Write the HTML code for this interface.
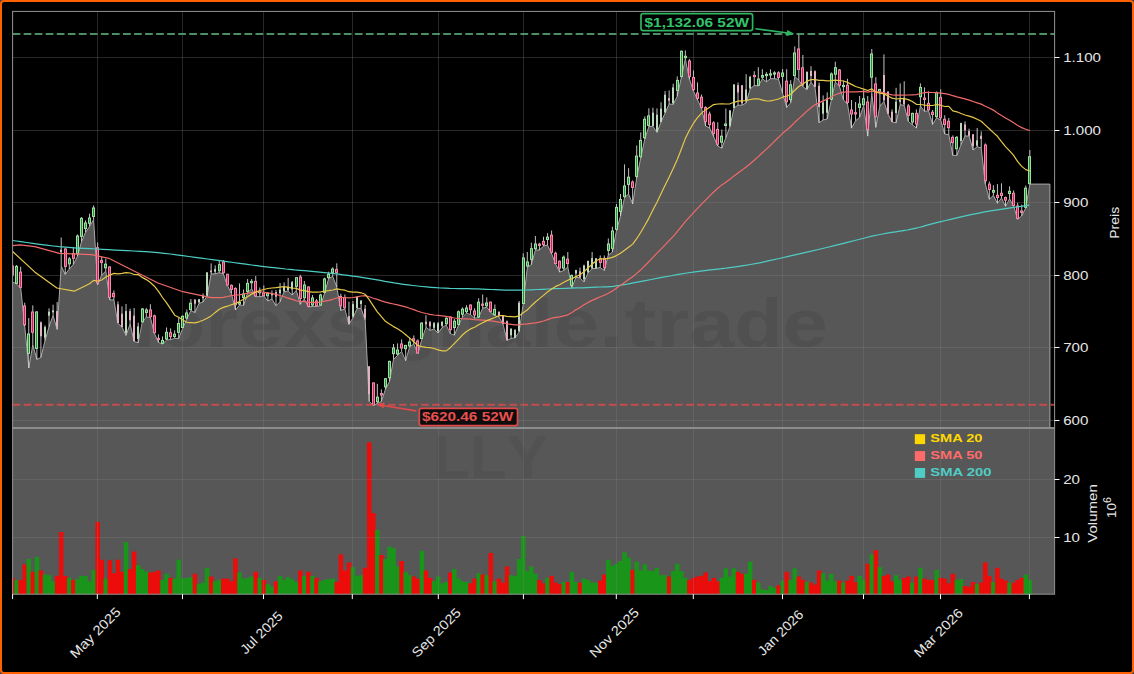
<!DOCTYPE html>
<html><head><meta charset="utf-8"><style>
html,body{margin:0;padding:0;width:1134px;height:674px;overflow:hidden;background:#33414d}
#frame{position:absolute;left:0;top:0;width:1130px;height:670px;border:2px solid #ff6000;border-radius:4px;background:#000;overflow:hidden}
svg text{font-family:"Liberation Sans",sans-serif}
</style></head><body><div id="frame"></div>
<svg width="1134" height="674" viewBox="0 0 1134 674" style="position:absolute;left:0;top:0">
<defs><clipPath id="cp"><rect x="12.6" y="11.4" width="1042.0" height="416.6"/></clipPath>
<clipPath id="cv"><rect x="12.6" y="428.0" width="1042.0" height="166.2"/></clipPath></defs>
<g clip-path="url(#cp)">
<rect x="12.6" y="11.4" width="1042.0" height="416.6" fill="#000"/>
<path d="M7.6,282.0 L12.6,282.0 L16.6,284.0 L20.7,288.0 L24.7,326.0 L28.8,368.0 L32.8,344.8 L36.9,359.4 L40.9,357.4 L45.0,340.7 L49.0,326.7 L53.1,315.4 L57.1,329.4 L61.2,266.0 L65.2,274.4 L69.3,269.0 L73.3,264.4 L77.4,256.4 L81.5,241.7 L85.5,232.4 L89.6,226.4 L93.6,219.7 L97.7,284.7 L101.7,275.1 L105.8,271.0 L109.8,300.0 L113.9,299.8 L117.9,323.4 L122.0,327.0 L126.0,335.4 L130.1,324.0 L134.1,341.4 L138.2,342.7 L142.2,322.4 L146.3,317.0 L150.4,317.5 L154.4,333.3 L158.5,342.4 L162.5,344.0 L166.6,340.0 L170.6,339.6 L174.7,338.4 L178.7,338.4 L182.8,328.1 L186.8,319.0 L190.9,310.5 L194.9,312.5 L199.0,303.4 L203.0,302.0 L207.1,296.0 L211.1,274.0 L215.2,273.8 L219.3,272.7 L223.3,273.8 L227.4,285.4 L231.4,293.4 L235.5,310.0 L239.5,305.0 L243.6,305.4 L247.6,292.7 L251.7,288.7 L255.7,296.7 L259.8,296.7 L263.8,296.0 L267.9,301.0 L271.9,299.0 L276.0,305.7 L280.0,301.7 L284.1,291.7 L288.2,291.0 L292.2,295.0 L296.3,290.4 L300.3,304.4 L304.4,299.0 L308.4,307.0 L312.5,306.4 L316.5,306.4 L320.6,305.7 L324.6,293.0 L328.7,278.4 L332.7,276.4 L336.8,287.0 L340.8,310.4 L344.9,309.0 L348.9,324.4 L353.0,317.7 L357.1,308.4 L361.1,308.4 L365.2,320.0 L369.2,401.4 L373.3,405.5 L377.3,403.4 L381.4,401.4 L385.4,389.4 L389.5,381.4 L393.5,359.4 L397.6,355.4 L401.6,351.4 L405.7,360.7 L409.7,346.7 L413.8,344.0 L417.9,353.4 L421.9,339.2 L426.0,327.2 L430.0,330.4 L434.1,329.0 L438.1,333.0 L442.2,327.5 L446.2,325.0 L450.3,333.7 L454.3,335.2 L458.4,325.5 L462.4,317.2 L466.5,313.2 L470.5,314.5 L474.6,318.2 L478.6,317.5 L482.7,308.2 L486.8,307.2 L490.8,312.6 L494.9,315.5 L498.9,317.0 L503.0,324.0 L507.0,340.4 L511.1,338.4 L515.1,337.9 L519.2,331.7 L523.2,304.0 L527.3,267.4 L531.3,264.7 L535.4,250.0 L539.4,250.0 L543.5,246.0 L547.5,245.0 L551.6,253.6 L555.7,264.1 L559.7,272.1 L563.8,270.4 L567.8,267.0 L571.9,287.6 L575.9,277.3 L580.0,277.9 L584.0,281.9 L588.1,272.7 L592.1,268.7 L596.2,268.3 L600.2,267.6 L604.3,270.4 L608.3,255.0 L612.4,252.0 L616.4,230.7 L620.5,216.0 L624.6,197.4 L628.6,194.0 L632.7,204.0 L636.7,177.8 L640.8,157.7 L644.8,139.0 L648.9,126.4 L652.9,126.4 L657.0,132.4 L661.0,122.0 L665.1,113.0 L669.1,104.0 L673.2,104.4 L677.2,96.4 L681.3,77.7 L685.3,59.0 L689.4,79.0 L693.5,91.0 L697.5,99.8 L701.6,108.4 L705.6,126.0 L709.7,128.0 L713.7,136.8 L717.8,146.0 L721.8,148.2 L725.9,137.5 L729.9,126.8 L734.0,108.0 L738.0,105.2 L742.1,105.2 L746.1,102.8 L750.2,88.8 L754.2,85.5 L758.3,85.8 L762.4,78.8 L766.4,81.8 L770.5,78.7 L774.5,78.7 L778.6,79.4 L782.6,93.4 L786.7,107.4 L790.7,102.7 L794.8,76.7 L798.8,80.0 L802.9,86.7 L806.9,89.6 L811.0,82.2 L815.0,87.4 L819.1,122.7 L823.1,120.0 L827.2,119.0 L831.3,100.2 L835.3,82.0 L839.4,86.0 L843.4,99.8 L847.5,104.2 L851.5,128.1 L855.6,120.7 L859.6,117.4 L863.7,105.4 L867.7,136.1 L871.8,93.4 L875.8,127.4 L879.9,106.0 L883.9,101.4 L888.0,114.0 L892.1,122.0 L896.1,122.7 L900.2,104.7 L904.2,105.4 L908.3,121.4 L912.3,124.7 L916.4,128.1 L920.4,106.0 L924.5,111.4 L928.5,110.7 L932.6,124.4 L936.6,117.8 L940.7,120.0 L944.7,134.0 L948.8,134.7 L952.8,155.4 L956.9,155.4 L961.0,144.7 L965.0,136.0 L969.1,136.0 L973.1,150.0 L977.2,146.7 L981.2,148.0 L985.3,183.7 L989.3,199.3 L993.4,195.3 L997.4,203.3 L1001.5,198.0 L1005.5,206.4 L1009.6,198.8 L1013.6,206.0 L1017.7,219.3 L1021.7,215.8 L1025.8,207.7 L1029.9,184.1 L1049.9,184.1 L1049.9,433.0 L7.6,433.0 Z" fill="#575757"/>
<path d="M12.6,282.0 L16.6,284.0 L20.7,288.0 L24.7,326.0 L28.8,368.0 L32.8,344.8 L36.9,359.4 L40.9,357.4 L45.0,340.7 L49.0,326.7 L53.1,315.4 L57.1,329.4 L61.2,266.0 L65.2,274.4 L69.3,269.0 L73.3,264.4 L77.4,256.4 L81.5,241.7 L85.5,232.4 L89.6,226.4 L93.6,219.7 L97.7,284.7 L101.7,275.1 L105.8,271.0 L109.8,300.0 L113.9,299.8 L117.9,323.4 L122.0,327.0 L126.0,335.4 L130.1,324.0 L134.1,341.4 L138.2,342.7 L142.2,322.4 L146.3,317.0 L150.4,317.5 L154.4,333.3 L158.5,342.4 L162.5,344.0 L166.6,340.0 L170.6,339.6 L174.7,338.4 L178.7,338.4 L182.8,328.1 L186.8,319.0 L190.9,310.5 L194.9,312.5 L199.0,303.4 L203.0,302.0 L207.1,296.0 L211.1,274.0 L215.2,273.8 L219.3,272.7 L223.3,273.8 L227.4,285.4 L231.4,293.4 L235.5,310.0 L239.5,305.0 L243.6,305.4 L247.6,292.7 L251.7,288.7 L255.7,296.7 L259.8,296.7 L263.8,296.0 L267.9,301.0 L271.9,299.0 L276.0,305.7 L280.0,301.7 L284.1,291.7 L288.2,291.0 L292.2,295.0 L296.3,290.4 L300.3,304.4 L304.4,299.0 L308.4,307.0 L312.5,306.4 L316.5,306.4 L320.6,305.7 L324.6,293.0 L328.7,278.4 L332.7,276.4 L336.8,287.0 L340.8,310.4 L344.9,309.0 L348.9,324.4 L353.0,317.7 L357.1,308.4 L361.1,308.4 L365.2,320.0 L369.2,401.4 L373.3,405.5 L377.3,403.4 L381.4,401.4 L385.4,389.4 L389.5,381.4 L393.5,359.4 L397.6,355.4 L401.6,351.4 L405.7,360.7 L409.7,346.7 L413.8,344.0 L417.9,353.4 L421.9,339.2 L426.0,327.2 L430.0,330.4 L434.1,329.0 L438.1,333.0 L442.2,327.5 L446.2,325.0 L450.3,333.7 L454.3,335.2 L458.4,325.5 L462.4,317.2 L466.5,313.2 L470.5,314.5 L474.6,318.2 L478.6,317.5 L482.7,308.2 L486.8,307.2 L490.8,312.6 L494.9,315.5 L498.9,317.0 L503.0,324.0 L507.0,340.4 L511.1,338.4 L515.1,337.9 L519.2,331.7 L523.2,304.0 L527.3,267.4 L531.3,264.7 L535.4,250.0 L539.4,250.0 L543.5,246.0 L547.5,245.0 L551.6,253.6 L555.7,264.1 L559.7,272.1 L563.8,270.4 L567.8,267.0 L571.9,287.6 L575.9,277.3 L580.0,277.9 L584.0,281.9 L588.1,272.7 L592.1,268.7 L596.2,268.3 L600.2,267.6 L604.3,270.4 L608.3,255.0 L612.4,252.0 L616.4,230.7 L620.5,216.0 L624.6,197.4 L628.6,194.0 L632.7,204.0 L636.7,177.8 L640.8,157.7 L644.8,139.0 L648.9,126.4 L652.9,126.4 L657.0,132.4 L661.0,122.0 L665.1,113.0 L669.1,104.0 L673.2,104.4 L677.2,96.4 L681.3,77.7 L685.3,59.0 L689.4,79.0 L693.5,91.0 L697.5,99.8 L701.6,108.4 L705.6,126.0 L709.7,128.0 L713.7,136.8 L717.8,146.0 L721.8,148.2 L725.9,137.5 L729.9,126.8 L734.0,108.0 L738.0,105.2 L742.1,105.2 L746.1,102.8 L750.2,88.8 L754.2,85.5 L758.3,85.8 L762.4,78.8 L766.4,81.8 L770.5,78.7 L774.5,78.7 L778.6,79.4 L782.6,93.4 L786.7,107.4 L790.7,102.7 L794.8,76.7 L798.8,80.0 L802.9,86.7 L806.9,89.6 L811.0,82.2 L815.0,87.4 L819.1,122.7 L823.1,120.0 L827.2,119.0 L831.3,100.2 L835.3,82.0 L839.4,86.0 L843.4,99.8 L847.5,104.2 L851.5,128.1 L855.6,120.7 L859.6,117.4 L863.7,105.4 L867.7,136.1 L871.8,93.4 L875.8,127.4 L879.9,106.0 L883.9,101.4 L888.0,114.0 L892.1,122.0 L896.1,122.7 L900.2,104.7 L904.2,105.4 L908.3,121.4 L912.3,124.7 L916.4,128.1 L920.4,106.0 L924.5,111.4 L928.5,110.7 L932.6,124.4 L936.6,117.8 L940.7,120.0 L944.7,134.0 L948.8,134.7 L952.8,155.4 L956.9,155.4 L961.0,144.7 L965.0,136.0 L969.1,136.0 L973.1,150.0 L977.2,146.7 L981.2,148.0 L985.3,183.7 L989.3,199.3 L993.4,195.3 L997.4,203.3 L1001.5,198.0 L1005.5,206.4 L1009.6,198.8 L1013.6,206.0 L1017.7,219.3 L1021.7,215.8 L1025.8,207.7 L1029.9,184.1 L1049.9,184.1 L1049.9,433.0" fill="none" stroke="#a8a8a8" stroke-width="1" stroke-linejoin="round"/>
<g fill="#000" fill-opacity="0.075" font-family="Liberation Sans" font-weight="bold" font-size="69.4"><text x="129.8" y="346.5" textLength="29.1" lengthAdjust="spacingAndGlyphs">f</text><text x="158.9" y="346.5" textLength="46.0" lengthAdjust="spacingAndGlyphs">o</text><text x="205.0" y="346.5" textLength="33.0" lengthAdjust="spacingAndGlyphs">r</text><text x="238.0" y="346.5" textLength="45.4" lengthAdjust="spacingAndGlyphs">e</text><text x="283.5" y="346.5" textLength="43.2" lengthAdjust="spacingAndGlyphs">x</text><text x="326.7" y="346.5" textLength="39.9" lengthAdjust="spacingAndGlyphs">s</text><text x="366.6" y="346.5" textLength="23.0" lengthAdjust="spacingAndGlyphs">i</text><text x="389.5" y="346.5" textLength="48.0" lengthAdjust="spacingAndGlyphs">g</text><text x="437.5" y="346.5" textLength="47.7" lengthAdjust="spacingAndGlyphs">n</text><text x="485.2" y="346.5" textLength="45.2" lengthAdjust="spacingAndGlyphs">a</text><text x="530.4" y="346.5" textLength="23.0" lengthAdjust="spacingAndGlyphs">l</text><text x="553.4" y="346.5" textLength="45.4" lengthAdjust="spacingAndGlyphs">e</text><text x="598.8" y="346.5" textLength="25.5" lengthAdjust="spacingAndGlyphs">.</text><text x="624.3" y="346.5" textLength="32.0" lengthAdjust="spacingAndGlyphs">t</text><text x="656.3" y="346.5" textLength="33.0" lengthAdjust="spacingAndGlyphs">r</text><text x="689.3" y="346.5" textLength="45.2" lengthAdjust="spacingAndGlyphs">a</text><text x="734.5" y="346.5" textLength="48.0" lengthAdjust="spacingAndGlyphs">d</text><text x="782.5" y="346.5" textLength="45.4" lengthAdjust="spacingAndGlyphs">e</text></g>
<line x1="12.6" x2="1054.6" y1="420.5" y2="420.5" stroke="#808080" stroke-opacity="0.3" stroke-width="1"/>
<line x1="12.6" x2="1054.6" y1="347.5" y2="347.5" stroke="#808080" stroke-opacity="0.3" stroke-width="1"/>
<line x1="12.6" x2="1054.6" y1="275.5" y2="275.5" stroke="#808080" stroke-opacity="0.3" stroke-width="1"/>
<line x1="12.6" x2="1054.6" y1="202.5" y2="202.5" stroke="#808080" stroke-opacity="0.3" stroke-width="1"/>
<line x1="12.6" x2="1054.6" y1="130.5" y2="130.5" stroke="#808080" stroke-opacity="0.3" stroke-width="1"/>
<line x1="12.6" x2="1054.6" y1="57.5" y2="57.5" stroke="#808080" stroke-opacity="0.3" stroke-width="1"/>
<line x1="12.5" x2="12.5" y1="11.4" y2="428.0" stroke="#808080" stroke-opacity="0.3" stroke-width="1"/>
<line x1="97.5" x2="97.5" y1="11.4" y2="428.0" stroke="#808080" stroke-opacity="0.3" stroke-width="1"/>
<line x1="182.5" x2="182.5" y1="11.4" y2="428.0" stroke="#808080" stroke-opacity="0.3" stroke-width="1"/>
<line x1="263.5" x2="263.5" y1="11.4" y2="428.0" stroke="#808080" stroke-opacity="0.3" stroke-width="1"/>
<line x1="352.5" x2="352.5" y1="11.4" y2="428.0" stroke="#808080" stroke-opacity="0.3" stroke-width="1"/>
<line x1="438.5" x2="438.5" y1="11.4" y2="428.0" stroke="#808080" stroke-opacity="0.3" stroke-width="1"/>
<line x1="523.5" x2="523.5" y1="11.4" y2="428.0" stroke="#808080" stroke-opacity="0.3" stroke-width="1"/>
<line x1="616.5" x2="616.5" y1="11.4" y2="428.0" stroke="#808080" stroke-opacity="0.3" stroke-width="1"/>
<line x1="693.5" x2="693.5" y1="11.4" y2="428.0" stroke="#808080" stroke-opacity="0.3" stroke-width="1"/>
<line x1="782.5" x2="782.5" y1="11.4" y2="428.0" stroke="#808080" stroke-opacity="0.3" stroke-width="1"/>
<line x1="863.5" x2="863.5" y1="11.4" y2="428.0" stroke="#808080" stroke-opacity="0.3" stroke-width="1"/>
<line x1="940.5" x2="940.5" y1="11.4" y2="428.0" stroke="#808080" stroke-opacity="0.3" stroke-width="1"/>
<line x1="1029.5" x2="1029.5" y1="11.4" y2="428.0" stroke="#808080" stroke-opacity="0.3" stroke-width="1"/>
<line x1="12.55" x2="12.55" y1="265.0" y2="282.0" stroke="#d8d8d8" stroke-width="0.9"/>
<line x1="16.60" x2="16.60" y1="265.0" y2="284.0" stroke="#d8d8d8" stroke-width="0.9"/>
<line x1="20.66" x2="20.66" y1="266.7" y2="288.0" stroke="#d8d8d8" stroke-width="0.9"/>
<line x1="24.71" x2="24.71" y1="302.7" y2="326.0" stroke="#d8d8d8" stroke-width="0.9"/>
<line x1="28.76" x2="28.76" y1="318.0" y2="368.0" stroke="#d8d8d8" stroke-width="0.9"/>
<line x1="32.81" x2="32.81" y1="305.4" y2="344.8" stroke="#d8d8d8" stroke-width="0.9"/>
<line x1="36.87" x2="36.87" y1="311.0" y2="359.4" stroke="#d8d8d8" stroke-width="0.9"/>
<line x1="40.92" x2="40.92" y1="321.4" y2="357.4" stroke="#d8d8d8" stroke-width="0.9"/>
<line x1="44.97" x2="44.97" y1="325.4" y2="340.7" stroke="#d8d8d8" stroke-width="0.9"/>
<line x1="49.03" x2="49.03" y1="308.3" y2="326.7" stroke="#d8d8d8" stroke-width="0.9"/>
<line x1="53.08" x2="53.08" y1="304.7" y2="315.4" stroke="#d8d8d8" stroke-width="0.9"/>
<line x1="57.13" x2="57.13" y1="302.0" y2="329.4" stroke="#d8d8d8" stroke-width="0.9"/>
<line x1="61.19" x2="61.19" y1="237.5" y2="266.0" stroke="#d8d8d8" stroke-width="0.9"/>
<line x1="65.24" x2="65.24" y1="247.7" y2="274.4" stroke="#d8d8d8" stroke-width="0.9"/>
<line x1="69.29" x2="69.29" y1="257.0" y2="269.0" stroke="#d8d8d8" stroke-width="0.9"/>
<line x1="73.34" x2="73.34" y1="247.0" y2="264.4" stroke="#d8d8d8" stroke-width="0.9"/>
<line x1="77.40" x2="77.40" y1="234.4" y2="256.4" stroke="#d8d8d8" stroke-width="0.9"/>
<line x1="81.45" x2="81.45" y1="217.0" y2="241.7" stroke="#d8d8d8" stroke-width="0.9"/>
<line x1="85.50" x2="85.50" y1="220.4" y2="232.4" stroke="#d8d8d8" stroke-width="0.9"/>
<line x1="89.56" x2="89.56" y1="213.7" y2="226.4" stroke="#d8d8d8" stroke-width="0.9"/>
<line x1="93.61" x2="93.61" y1="205.4" y2="219.7" stroke="#d8d8d8" stroke-width="0.9"/>
<line x1="97.66" x2="97.66" y1="242.4" y2="284.7" stroke="#d8d8d8" stroke-width="0.9"/>
<line x1="101.72" x2="101.72" y1="257.0" y2="275.1" stroke="#d8d8d8" stroke-width="0.9"/>
<line x1="105.77" x2="105.77" y1="258.8" y2="271.0" stroke="#d8d8d8" stroke-width="0.9"/>
<line x1="109.82" x2="109.82" y1="266.0" y2="300.0" stroke="#d8d8d8" stroke-width="0.9"/>
<line x1="113.88" x2="113.88" y1="290.4" y2="299.8" stroke="#d8d8d8" stroke-width="0.9"/>
<line x1="117.93" x2="117.93" y1="301.4" y2="323.4" stroke="#d8d8d8" stroke-width="0.9"/>
<line x1="121.98" x2="121.98" y1="306.4" y2="327.0" stroke="#d8d8d8" stroke-width="0.9"/>
<line x1="126.03" x2="126.03" y1="304.0" y2="335.4" stroke="#d8d8d8" stroke-width="0.9"/>
<line x1="130.09" x2="130.09" y1="308.7" y2="324.0" stroke="#d8d8d8" stroke-width="0.9"/>
<line x1="134.14" x2="134.14" y1="308.0" y2="341.4" stroke="#d8d8d8" stroke-width="0.9"/>
<line x1="138.19" x2="138.19" y1="322.7" y2="342.7" stroke="#d8d8d8" stroke-width="0.9"/>
<line x1="142.25" x2="142.25" y1="308.0" y2="322.4" stroke="#d8d8d8" stroke-width="0.9"/>
<line x1="146.30" x2="146.30" y1="308.0" y2="317.0" stroke="#d8d8d8" stroke-width="0.9"/>
<line x1="150.35" x2="150.35" y1="304.2" y2="317.5" stroke="#d8d8d8" stroke-width="0.9"/>
<line x1="154.41" x2="154.41" y1="314.7" y2="333.3" stroke="#d8d8d8" stroke-width="0.9"/>
<line x1="158.46" x2="158.46" y1="334.4" y2="342.4" stroke="#d8d8d8" stroke-width="0.9"/>
<line x1="162.51" x2="162.51" y1="336.5" y2="344.0" stroke="#d8d8d8" stroke-width="0.9"/>
<line x1="166.56" x2="166.56" y1="327.5" y2="340.0" stroke="#d8d8d8" stroke-width="0.9"/>
<line x1="170.62" x2="170.62" y1="328.4" y2="339.6" stroke="#d8d8d8" stroke-width="0.9"/>
<line x1="174.67" x2="174.67" y1="330.4" y2="338.4" stroke="#d8d8d8" stroke-width="0.9"/>
<line x1="178.72" x2="178.72" y1="317.8" y2="338.4" stroke="#d8d8d8" stroke-width="0.9"/>
<line x1="182.78" x2="182.78" y1="315.4" y2="328.1" stroke="#d8d8d8" stroke-width="0.9"/>
<line x1="186.83" x2="186.83" y1="309.5" y2="319.0" stroke="#d8d8d8" stroke-width="0.9"/>
<line x1="190.88" x2="190.88" y1="299.0" y2="310.5" stroke="#d8d8d8" stroke-width="0.9"/>
<line x1="194.94" x2="194.94" y1="299.0" y2="312.5" stroke="#d8d8d8" stroke-width="0.9"/>
<line x1="198.99" x2="198.99" y1="299.0" y2="303.4" stroke="#d8d8d8" stroke-width="0.9"/>
<line x1="203.04" x2="203.04" y1="293.4" y2="302.0" stroke="#d8d8d8" stroke-width="0.9"/>
<line x1="207.09" x2="207.09" y1="272.4" y2="296.0" stroke="#d8d8d8" stroke-width="0.9"/>
<line x1="211.15" x2="211.15" y1="263.4" y2="274.0" stroke="#d8d8d8" stroke-width="0.9"/>
<line x1="215.20" x2="215.20" y1="265.4" y2="273.8" stroke="#d8d8d8" stroke-width="0.9"/>
<line x1="219.25" x2="219.25" y1="260.7" y2="272.7" stroke="#d8d8d8" stroke-width="0.9"/>
<line x1="223.31" x2="223.31" y1="260.0" y2="273.8" stroke="#d8d8d8" stroke-width="0.9"/>
<line x1="227.36" x2="227.36" y1="273.8" y2="285.4" stroke="#d8d8d8" stroke-width="0.9"/>
<line x1="231.41" x2="231.41" y1="284.4" y2="293.4" stroke="#d8d8d8" stroke-width="0.9"/>
<line x1="235.47" x2="235.47" y1="287.4" y2="310.0" stroke="#d8d8d8" stroke-width="0.9"/>
<line x1="239.52" x2="239.52" y1="283.4" y2="305.0" stroke="#d8d8d8" stroke-width="0.9"/>
<line x1="243.57" x2="243.57" y1="289.4" y2="305.4" stroke="#d8d8d8" stroke-width="0.9"/>
<line x1="247.62" x2="247.62" y1="279.1" y2="292.7" stroke="#d8d8d8" stroke-width="0.9"/>
<line x1="251.68" x2="251.68" y1="279.0" y2="288.7" stroke="#d8d8d8" stroke-width="0.9"/>
<line x1="255.73" x2="255.73" y1="276.0" y2="296.7" stroke="#d8d8d8" stroke-width="0.9"/>
<line x1="259.78" x2="259.78" y1="287.5" y2="296.7" stroke="#d8d8d8" stroke-width="0.9"/>
<line x1="263.84" x2="263.84" y1="285.4" y2="296.0" stroke="#d8d8d8" stroke-width="0.9"/>
<line x1="267.89" x2="267.89" y1="292.0" y2="301.0" stroke="#d8d8d8" stroke-width="0.9"/>
<line x1="271.94" x2="271.94" y1="290.4" y2="299.0" stroke="#d8d8d8" stroke-width="0.9"/>
<line x1="276.00" x2="276.00" y1="290.0" y2="305.7" stroke="#d8d8d8" stroke-width="0.9"/>
<line x1="280.05" x2="280.05" y1="283.0" y2="301.7" stroke="#d8d8d8" stroke-width="0.9"/>
<line x1="284.10" x2="284.10" y1="282.4" y2="291.7" stroke="#d8d8d8" stroke-width="0.9"/>
<line x1="288.15" x2="288.15" y1="278.0" y2="291.0" stroke="#d8d8d8" stroke-width="0.9"/>
<line x1="292.21" x2="292.21" y1="281.0" y2="295.0" stroke="#d8d8d8" stroke-width="0.9"/>
<line x1="296.26" x2="296.26" y1="277.0" y2="290.4" stroke="#d8d8d8" stroke-width="0.9"/>
<line x1="300.31" x2="300.31" y1="274.8" y2="304.4" stroke="#d8d8d8" stroke-width="0.9"/>
<line x1="304.37" x2="304.37" y1="281.0" y2="299.0" stroke="#d8d8d8" stroke-width="0.9"/>
<line x1="308.42" x2="308.42" y1="286.4" y2="307.0" stroke="#d8d8d8" stroke-width="0.9"/>
<line x1="312.47" x2="312.47" y1="295.0" y2="306.4" stroke="#d8d8d8" stroke-width="0.9"/>
<line x1="316.53" x2="316.53" y1="299.0" y2="306.4" stroke="#d8d8d8" stroke-width="0.9"/>
<line x1="320.58" x2="320.58" y1="293.7" y2="305.7" stroke="#d8d8d8" stroke-width="0.9"/>
<line x1="324.63" x2="324.63" y1="277.7" y2="293.0" stroke="#d8d8d8" stroke-width="0.9"/>
<line x1="328.68" x2="328.68" y1="271.7" y2="278.4" stroke="#d8d8d8" stroke-width="0.9"/>
<line x1="332.74" x2="332.74" y1="267.3" y2="276.4" stroke="#d8d8d8" stroke-width="0.9"/>
<line x1="336.79" x2="336.79" y1="263.3" y2="287.0" stroke="#d8d8d8" stroke-width="0.9"/>
<line x1="340.84" x2="340.84" y1="293.7" y2="310.4" stroke="#d8d8d8" stroke-width="0.9"/>
<line x1="344.90" x2="344.90" y1="294.4" y2="309.0" stroke="#d8d8d8" stroke-width="0.9"/>
<line x1="348.95" x2="348.95" y1="301.7" y2="324.4" stroke="#d8d8d8" stroke-width="0.9"/>
<line x1="353.00" x2="353.00" y1="301.0" y2="317.7" stroke="#d8d8d8" stroke-width="0.9"/>
<line x1="357.06" x2="357.06" y1="296.4" y2="308.4" stroke="#d8d8d8" stroke-width="0.9"/>
<line x1="361.11" x2="361.11" y1="300.0" y2="308.4" stroke="#d8d8d8" stroke-width="0.9"/>
<line x1="365.16" x2="365.16" y1="305.0" y2="320.0" stroke="#d8d8d8" stroke-width="0.9"/>
<line x1="369.21" x2="369.21" y1="366.0" y2="401.4" stroke="#d8d8d8" stroke-width="0.9"/>
<line x1="373.27" x2="373.27" y1="382.7" y2="405.5" stroke="#d8d8d8" stroke-width="0.9"/>
<line x1="377.32" x2="377.32" y1="383.8" y2="403.4" stroke="#d8d8d8" stroke-width="0.9"/>
<line x1="381.37" x2="381.37" y1="389.4" y2="401.4" stroke="#d8d8d8" stroke-width="0.9"/>
<line x1="385.43" x2="385.43" y1="378.0" y2="389.4" stroke="#d8d8d8" stroke-width="0.9"/>
<line x1="389.48" x2="389.48" y1="360.7" y2="381.4" stroke="#d8d8d8" stroke-width="0.9"/>
<line x1="393.53" x2="393.53" y1="344.0" y2="359.4" stroke="#d8d8d8" stroke-width="0.9"/>
<line x1="397.58" x2="397.58" y1="343.4" y2="355.4" stroke="#d8d8d8" stroke-width="0.9"/>
<line x1="401.64" x2="401.64" y1="339.4" y2="351.4" stroke="#d8d8d8" stroke-width="0.9"/>
<line x1="405.69" x2="405.69" y1="345.0" y2="360.7" stroke="#d8d8d8" stroke-width="0.9"/>
<line x1="409.74" x2="409.74" y1="337.4" y2="346.7" stroke="#d8d8d8" stroke-width="0.9"/>
<line x1="413.80" x2="413.80" y1="335.4" y2="344.0" stroke="#d8d8d8" stroke-width="0.9"/>
<line x1="417.85" x2="417.85" y1="339.4" y2="353.4" stroke="#d8d8d8" stroke-width="0.9"/>
<line x1="421.90" x2="421.90" y1="322.0" y2="339.2" stroke="#d8d8d8" stroke-width="0.9"/>
<line x1="425.96" x2="425.96" y1="315.2" y2="327.2" stroke="#d8d8d8" stroke-width="0.9"/>
<line x1="430.01" x2="430.01" y1="321.0" y2="330.4" stroke="#d8d8d8" stroke-width="0.9"/>
<line x1="434.06" x2="434.06" y1="322.0" y2="329.0" stroke="#d8d8d8" stroke-width="0.9"/>
<line x1="438.12" x2="438.12" y1="322.0" y2="333.0" stroke="#d8d8d8" stroke-width="0.9"/>
<line x1="442.17" x2="442.17" y1="321.5" y2="327.5" stroke="#d8d8d8" stroke-width="0.9"/>
<line x1="446.22" x2="446.22" y1="316.2" y2="325.0" stroke="#d8d8d8" stroke-width="0.9"/>
<line x1="450.27" x2="450.27" y1="316.5" y2="333.7" stroke="#d8d8d8" stroke-width="0.9"/>
<line x1="454.33" x2="454.33" y1="319.0" y2="335.2" stroke="#d8d8d8" stroke-width="0.9"/>
<line x1="458.38" x2="458.38" y1="310.5" y2="325.5" stroke="#d8d8d8" stroke-width="0.9"/>
<line x1="462.43" x2="462.43" y1="307.4" y2="317.2" stroke="#d8d8d8" stroke-width="0.9"/>
<line x1="466.49" x2="466.49" y1="305.2" y2="313.2" stroke="#d8d8d8" stroke-width="0.9"/>
<line x1="470.54" x2="470.54" y1="304.5" y2="314.5" stroke="#d8d8d8" stroke-width="0.9"/>
<line x1="474.59" x2="474.59" y1="308.2" y2="318.2" stroke="#d8d8d8" stroke-width="0.9"/>
<line x1="478.64" x2="478.64" y1="298.2" y2="317.5" stroke="#d8d8d8" stroke-width="0.9"/>
<line x1="482.70" x2="482.70" y1="294.5" y2="308.2" stroke="#d8d8d8" stroke-width="0.9"/>
<line x1="486.75" x2="486.75" y1="297.4" y2="307.2" stroke="#d8d8d8" stroke-width="0.9"/>
<line x1="490.80" x2="490.80" y1="301.5" y2="312.6" stroke="#d8d8d8" stroke-width="0.9"/>
<line x1="494.86" x2="494.86" y1="304.5" y2="315.5" stroke="#d8d8d8" stroke-width="0.9"/>
<line x1="498.91" x2="498.91" y1="311.5" y2="317.0" stroke="#d8d8d8" stroke-width="0.9"/>
<line x1="502.96" x2="502.96" y1="315.0" y2="324.0" stroke="#d8d8d8" stroke-width="0.9"/>
<line x1="507.02" x2="507.02" y1="320.4" y2="340.4" stroke="#d8d8d8" stroke-width="0.9"/>
<line x1="511.07" x2="511.07" y1="328.4" y2="338.4" stroke="#d8d8d8" stroke-width="0.9"/>
<line x1="515.12" x2="515.12" y1="329.0" y2="337.9" stroke="#d8d8d8" stroke-width="0.9"/>
<line x1="519.17" x2="519.17" y1="301.0" y2="331.7" stroke="#d8d8d8" stroke-width="0.9"/>
<line x1="523.23" x2="523.23" y1="253.4" y2="304.0" stroke="#d8d8d8" stroke-width="0.9"/>
<line x1="527.28" x2="527.28" y1="252.0" y2="267.4" stroke="#d8d8d8" stroke-width="0.9"/>
<line x1="531.33" x2="531.33" y1="242.7" y2="264.7" stroke="#d8d8d8" stroke-width="0.9"/>
<line x1="535.39" x2="535.39" y1="236.0" y2="250.0" stroke="#d8d8d8" stroke-width="0.9"/>
<line x1="539.44" x2="539.44" y1="242.7" y2="250.0" stroke="#d8d8d8" stroke-width="0.9"/>
<line x1="543.49" x2="543.49" y1="236.7" y2="246.0" stroke="#d8d8d8" stroke-width="0.9"/>
<line x1="547.55" x2="547.55" y1="233.2" y2="245.0" stroke="#d8d8d8" stroke-width="0.9"/>
<line x1="551.60" x2="551.60" y1="230.5" y2="253.6" stroke="#d8d8d8" stroke-width="0.9"/>
<line x1="555.65" x2="555.65" y1="251.7" y2="264.1" stroke="#d8d8d8" stroke-width="0.9"/>
<line x1="559.70" x2="559.70" y1="260.5" y2="272.1" stroke="#d8d8d8" stroke-width="0.9"/>
<line x1="563.76" x2="563.76" y1="255.5" y2="270.4" stroke="#d8d8d8" stroke-width="0.9"/>
<line x1="567.81" x2="567.81" y1="252.0" y2="267.0" stroke="#d8d8d8" stroke-width="0.9"/>
<line x1="571.86" x2="571.86" y1="274.4" y2="287.6" stroke="#d8d8d8" stroke-width="0.9"/>
<line x1="575.92" x2="575.92" y1="269.8" y2="277.3" stroke="#d8d8d8" stroke-width="0.9"/>
<line x1="579.97" x2="579.97" y1="267.6" y2="277.9" stroke="#d8d8d8" stroke-width="0.9"/>
<line x1="584.02" x2="584.02" y1="264.7" y2="281.9" stroke="#d8d8d8" stroke-width="0.9"/>
<line x1="588.08" x2="588.08" y1="260.7" y2="272.7" stroke="#d8d8d8" stroke-width="0.9"/>
<line x1="592.13" x2="592.13" y1="252.0" y2="268.7" stroke="#d8d8d8" stroke-width="0.9"/>
<line x1="596.18" x2="596.18" y1="258.0" y2="268.3" stroke="#d8d8d8" stroke-width="0.9"/>
<line x1="600.23" x2="600.23" y1="255.5" y2="267.6" stroke="#d8d8d8" stroke-width="0.9"/>
<line x1="604.29" x2="604.29" y1="255.5" y2="270.4" stroke="#d8d8d8" stroke-width="0.9"/>
<line x1="608.34" x2="608.34" y1="238.5" y2="255.0" stroke="#d8d8d8" stroke-width="0.9"/>
<line x1="612.39" x2="612.39" y1="226.7" y2="252.0" stroke="#d8d8d8" stroke-width="0.9"/>
<line x1="616.45" x2="616.45" y1="204.0" y2="230.7" stroke="#d8d8d8" stroke-width="0.9"/>
<line x1="620.50" x2="620.50" y1="194.0" y2="216.0" stroke="#d8d8d8" stroke-width="0.9"/>
<line x1="624.55" x2="624.55" y1="164.4" y2="197.4" stroke="#d8d8d8" stroke-width="0.9"/>
<line x1="628.61" x2="628.61" y1="168.2" y2="194.0" stroke="#d8d8d8" stroke-width="0.9"/>
<line x1="632.66" x2="632.66" y1="180.4" y2="204.0" stroke="#d8d8d8" stroke-width="0.9"/>
<line x1="636.71" x2="636.71" y1="145.5" y2="177.8" stroke="#d8d8d8" stroke-width="0.9"/>
<line x1="640.76" x2="640.76" y1="132.4" y2="157.7" stroke="#d8d8d8" stroke-width="0.9"/>
<line x1="644.82" x2="644.82" y1="116.4" y2="139.0" stroke="#d8d8d8" stroke-width="0.9"/>
<line x1="648.87" x2="648.87" y1="108.3" y2="126.4" stroke="#d8d8d8" stroke-width="0.9"/>
<line x1="652.92" x2="652.92" y1="107.7" y2="126.4" stroke="#d8d8d8" stroke-width="0.9"/>
<line x1="656.98" x2="656.98" y1="108.4" y2="132.4" stroke="#d8d8d8" stroke-width="0.9"/>
<line x1="661.03" x2="661.03" y1="102.3" y2="122.0" stroke="#d8d8d8" stroke-width="0.9"/>
<line x1="665.08" x2="665.08" y1="91.0" y2="113.0" stroke="#d8d8d8" stroke-width="0.9"/>
<line x1="669.14" x2="669.14" y1="90.4" y2="104.0" stroke="#d8d8d8" stroke-width="0.9"/>
<line x1="673.19" x2="673.19" y1="83.7" y2="104.4" stroke="#d8d8d8" stroke-width="0.9"/>
<line x1="677.24" x2="677.24" y1="76.4" y2="96.4" stroke="#d8d8d8" stroke-width="0.9"/>
<line x1="681.29" x2="681.29" y1="50.4" y2="77.7" stroke="#d8d8d8" stroke-width="0.9"/>
<line x1="685.35" x2="685.35" y1="50.4" y2="59.0" stroke="#d8d8d8" stroke-width="0.9"/>
<line x1="689.40" x2="689.40" y1="59.0" y2="79.0" stroke="#d8d8d8" stroke-width="0.9"/>
<line x1="693.45" x2="693.45" y1="70.4" y2="91.0" stroke="#d8d8d8" stroke-width="0.9"/>
<line x1="697.51" x2="697.51" y1="82.4" y2="99.8" stroke="#d8d8d8" stroke-width="0.9"/>
<line x1="701.56" x2="701.56" y1="94.5" y2="108.4" stroke="#d8d8d8" stroke-width="0.9"/>
<line x1="705.61" x2="705.61" y1="106.3" y2="126.0" stroke="#d8d8d8" stroke-width="0.9"/>
<line x1="709.67" x2="709.67" y1="111.6" y2="128.0" stroke="#d8d8d8" stroke-width="0.9"/>
<line x1="713.72" x2="713.72" y1="121.2" y2="136.8" stroke="#d8d8d8" stroke-width="0.9"/>
<line x1="717.77" x2="717.77" y1="122.2" y2="146.0" stroke="#d8d8d8" stroke-width="0.9"/>
<line x1="721.82" x2="721.82" y1="129.5" y2="148.2" stroke="#d8d8d8" stroke-width="0.9"/>
<line x1="725.88" x2="725.88" y1="108.5" y2="137.5" stroke="#d8d8d8" stroke-width="0.9"/>
<line x1="729.93" x2="729.93" y1="110.2" y2="126.8" stroke="#d8d8d8" stroke-width="0.9"/>
<line x1="733.98" x2="733.98" y1="84.2" y2="108.0" stroke="#d8d8d8" stroke-width="0.9"/>
<line x1="738.04" x2="738.04" y1="82.5" y2="105.2" stroke="#d8d8d8" stroke-width="0.9"/>
<line x1="742.09" x2="742.09" y1="85.0" y2="105.2" stroke="#d8d8d8" stroke-width="0.9"/>
<line x1="746.14" x2="746.14" y1="74.2" y2="102.8" stroke="#d8d8d8" stroke-width="0.9"/>
<line x1="750.20" x2="750.20" y1="75.8" y2="88.8" stroke="#d8d8d8" stroke-width="0.9"/>
<line x1="754.25" x2="754.25" y1="71.2" y2="85.5" stroke="#d8d8d8" stroke-width="0.9"/>
<line x1="758.30" x2="758.30" y1="67.2" y2="85.8" stroke="#d8d8d8" stroke-width="0.9"/>
<line x1="762.35" x2="762.35" y1="69.2" y2="78.8" stroke="#d8d8d8" stroke-width="0.9"/>
<line x1="766.41" x2="766.41" y1="72.2" y2="81.8" stroke="#d8d8d8" stroke-width="0.9"/>
<line x1="770.46" x2="770.46" y1="69.3" y2="78.7" stroke="#d8d8d8" stroke-width="0.9"/>
<line x1="774.51" x2="774.51" y1="71.3" y2="78.7" stroke="#d8d8d8" stroke-width="0.9"/>
<line x1="778.57" x2="778.57" y1="71.3" y2="79.4" stroke="#d8d8d8" stroke-width="0.9"/>
<line x1="782.62" x2="782.62" y1="69.0" y2="93.4" stroke="#d8d8d8" stroke-width="0.9"/>
<line x1="786.67" x2="786.67" y1="69.2" y2="107.4" stroke="#d8d8d8" stroke-width="0.9"/>
<line x1="790.73" x2="790.73" y1="80.2" y2="102.7" stroke="#d8d8d8" stroke-width="0.9"/>
<line x1="794.78" x2="794.78" y1="46.4" y2="76.7" stroke="#d8d8d8" stroke-width="0.9"/>
<line x1="798.83" x2="798.83" y1="33.7" y2="80.0" stroke="#d8d8d8" stroke-width="0.9"/>
<line x1="802.88" x2="802.88" y1="55.0" y2="86.7" stroke="#d8d8d8" stroke-width="0.9"/>
<line x1="806.94" x2="806.94" y1="71.8" y2="89.6" stroke="#d8d8d8" stroke-width="0.9"/>
<line x1="810.99" x2="810.99" y1="66.2" y2="82.2" stroke="#d8d8d8" stroke-width="0.9"/>
<line x1="815.04" x2="815.04" y1="70.4" y2="87.4" stroke="#d8d8d8" stroke-width="0.9"/>
<line x1="819.10" x2="819.10" y1="82.5" y2="122.7" stroke="#d8d8d8" stroke-width="0.9"/>
<line x1="823.15" x2="823.15" y1="95.4" y2="120.0" stroke="#d8d8d8" stroke-width="0.9"/>
<line x1="827.20" x2="827.20" y1="92.4" y2="119.0" stroke="#d8d8d8" stroke-width="0.9"/>
<line x1="831.26" x2="831.26" y1="72.4" y2="100.2" stroke="#d8d8d8" stroke-width="0.9"/>
<line x1="835.31" x2="835.31" y1="61.7" y2="82.0" stroke="#d8d8d8" stroke-width="0.9"/>
<line x1="839.36" x2="839.36" y1="69.0" y2="86.0" stroke="#d8d8d8" stroke-width="0.9"/>
<line x1="843.41" x2="843.41" y1="80.7" y2="99.8" stroke="#d8d8d8" stroke-width="0.9"/>
<line x1="847.47" x2="847.47" y1="78.8" y2="104.2" stroke="#d8d8d8" stroke-width="0.9"/>
<line x1="851.52" x2="851.52" y1="100.0" y2="128.1" stroke="#d8d8d8" stroke-width="0.9"/>
<line x1="855.57" x2="855.57" y1="102.0" y2="120.7" stroke="#d8d8d8" stroke-width="0.9"/>
<line x1="859.63" x2="859.63" y1="96.0" y2="117.4" stroke="#d8d8d8" stroke-width="0.9"/>
<line x1="863.68" x2="863.68" y1="90.0" y2="105.4" stroke="#d8d8d8" stroke-width="0.9"/>
<line x1="867.73" x2="867.73" y1="96.0" y2="136.1" stroke="#d8d8d8" stroke-width="0.9"/>
<line x1="871.79" x2="871.79" y1="49.0" y2="93.4" stroke="#d8d8d8" stroke-width="0.9"/>
<line x1="875.84" x2="875.84" y1="77.2" y2="127.4" stroke="#d8d8d8" stroke-width="0.9"/>
<line x1="879.89" x2="879.89" y1="89.0" y2="106.0" stroke="#d8d8d8" stroke-width="0.9"/>
<line x1="883.94" x2="883.94" y1="54.4" y2="101.4" stroke="#d8d8d8" stroke-width="0.9"/>
<line x1="888.00" x2="888.00" y1="91.2" y2="114.0" stroke="#d8d8d8" stroke-width="0.9"/>
<line x1="892.05" x2="892.05" y1="109.4" y2="122.0" stroke="#d8d8d8" stroke-width="0.9"/>
<line x1="896.10" x2="896.10" y1="87.8" y2="122.7" stroke="#d8d8d8" stroke-width="0.9"/>
<line x1="900.16" x2="900.16" y1="83.4" y2="104.7" stroke="#d8d8d8" stroke-width="0.9"/>
<line x1="904.21" x2="904.21" y1="81.3" y2="105.4" stroke="#d8d8d8" stroke-width="0.9"/>
<line x1="908.26" x2="908.26" y1="104.0" y2="121.4" stroke="#d8d8d8" stroke-width="0.9"/>
<line x1="912.32" x2="912.32" y1="112.7" y2="124.7" stroke="#d8d8d8" stroke-width="0.9"/>
<line x1="916.37" x2="916.37" y1="109.4" y2="128.1" stroke="#d8d8d8" stroke-width="0.9"/>
<line x1="920.42" x2="920.42" y1="83.4" y2="106.0" stroke="#d8d8d8" stroke-width="0.9"/>
<line x1="924.47" x2="924.47" y1="87.4" y2="111.4" stroke="#d8d8d8" stroke-width="0.9"/>
<line x1="928.53" x2="928.53" y1="91.4" y2="110.7" stroke="#d8d8d8" stroke-width="0.9"/>
<line x1="932.58" x2="932.58" y1="110.0" y2="124.4" stroke="#d8d8d8" stroke-width="0.9"/>
<line x1="936.63" x2="936.63" y1="91.4" y2="117.8" stroke="#d8d8d8" stroke-width="0.9"/>
<line x1="940.69" x2="940.69" y1="89.4" y2="120.0" stroke="#d8d8d8" stroke-width="0.9"/>
<line x1="944.74" x2="944.74" y1="115.3" y2="134.0" stroke="#d8d8d8" stroke-width="0.9"/>
<line x1="948.79" x2="948.79" y1="118.0" y2="134.7" stroke="#d8d8d8" stroke-width="0.9"/>
<line x1="952.85" x2="952.85" y1="135.4" y2="155.4" stroke="#d8d8d8" stroke-width="0.9"/>
<line x1="956.90" x2="956.90" y1="136.0" y2="155.4" stroke="#d8d8d8" stroke-width="0.9"/>
<line x1="960.95" x2="960.95" y1="122.7" y2="144.7" stroke="#d8d8d8" stroke-width="0.9"/>
<line x1="965.00" x2="965.00" y1="121.3" y2="136.0" stroke="#d8d8d8" stroke-width="0.9"/>
<line x1="969.06" x2="969.06" y1="128.7" y2="136.0" stroke="#d8d8d8" stroke-width="0.9"/>
<line x1="973.11" x2="973.11" y1="134.0" y2="150.0" stroke="#d8d8d8" stroke-width="0.9"/>
<line x1="977.16" x2="977.16" y1="128.0" y2="146.7" stroke="#d8d8d8" stroke-width="0.9"/>
<line x1="981.22" x2="981.22" y1="131.4" y2="148.0" stroke="#d8d8d8" stroke-width="0.9"/>
<line x1="985.27" x2="985.27" y1="143.4" y2="183.7" stroke="#d8d8d8" stroke-width="0.9"/>
<line x1="989.32" x2="989.32" y1="181.5" y2="199.3" stroke="#d8d8d8" stroke-width="0.9"/>
<line x1="993.38" x2="993.38" y1="185.3" y2="195.3" stroke="#d8d8d8" stroke-width="0.9"/>
<line x1="997.43" x2="997.43" y1="184.1" y2="203.3" stroke="#d8d8d8" stroke-width="0.9"/>
<line x1="1001.48" x2="1001.48" y1="183.3" y2="198.0" stroke="#d8d8d8" stroke-width="0.9"/>
<line x1="1005.53" x2="1005.53" y1="196.6" y2="206.4" stroke="#d8d8d8" stroke-width="0.9"/>
<line x1="1009.59" x2="1009.59" y1="186.4" y2="198.8" stroke="#d8d8d8" stroke-width="0.9"/>
<line x1="1013.64" x2="1013.64" y1="190.4" y2="206.0" stroke="#d8d8d8" stroke-width="0.9"/>
<line x1="1017.69" x2="1017.69" y1="202.8" y2="219.3" stroke="#d8d8d8" stroke-width="0.9"/>
<line x1="1021.75" x2="1021.75" y1="204.6" y2="215.8" stroke="#d8d8d8" stroke-width="0.9"/>
<line x1="1025.80" x2="1025.80" y1="185.5" y2="207.7" stroke="#d8d8d8" stroke-width="0.9"/>
<line x1="1029.85" x2="1029.85" y1="150.0" y2="184.1" stroke="#d8d8d8" stroke-width="0.9"/>
<rect x="11" y="265.5" width="3" height="10.0" fill="#f38aae"/>
<rect x="12" y="266.5" width="1" height="8.0" fill="#bc2c5a"/>
<rect x="15" y="265.9" width="3" height="17.9" fill="#9ee2a0"/>
<rect x="16" y="266.9" width="1" height="15.9" fill="#2f8a46"/>
<rect x="19" y="271.7" width="3" height="16.1" fill="#f38aae"/>
<rect x="20" y="272.7" width="1" height="14.1" fill="#bc2c5a"/>
<rect x="23" y="305.5" width="3" height="19.7" fill="#f38aae"/>
<rect x="24" y="306.5" width="1" height="17.7" fill="#bc2c5a"/>
<rect x="27" y="333.5" width="3" height="20.4" fill="#9ee2a0"/>
<rect x="28" y="334.5" width="1" height="18.4" fill="#2f8a46"/>
<rect x="31" y="311.5" width="3" height="21.3" fill="#f38aae"/>
<rect x="32" y="312.5" width="1" height="19.3" fill="#bc2c5a"/>
<rect x="35" y="311.5" width="3" height="37.4" fill="#9ee2a0"/>
<rect x="36" y="312.5" width="1" height="35.4" fill="#2f8a46"/>
<rect x="40" y="322.4" width="2" height="13.9" fill="#e0b4c2"/>
<rect x="44" y="327.1" width="2" height="10.6" fill="#bcd8bc"/>
<rect x="48" y="311.7" width="2" height="4.0" fill="#bcd8bc"/>
<rect x="52" y="310.4" width="2" height="1.9" fill="#bcd8bc"/>
<rect x="56" y="311.1" width="2" height="15.2" fill="#e0b4c2"/>
<rect x="60" y="249.7" width="2" height="2.6" fill="#e0b4c2"/>
<rect x="64" y="248.5" width="3" height="18.4" fill="#f38aae"/>
<rect x="65" y="249.5" width="1" height="16.4" fill="#bc2c5a"/>
<rect x="68" y="258.5" width="3" height="5.8" fill="#9ee2a0"/>
<rect x="69" y="259.5" width="1" height="3.8" fill="#2f8a46"/>
<rect x="72" y="253.0" width="3" height="5.9" fill="#f38aae"/>
<rect x="73" y="254.0" width="1" height="3.9" fill="#bc2c5a"/>
<rect x="76" y="235.5" width="3" height="18.7" fill="#9ee2a0"/>
<rect x="77" y="236.5" width="1" height="16.7" fill="#2f8a46"/>
<rect x="80" y="217.9" width="3" height="19.0" fill="#9ee2a0"/>
<rect x="81" y="218.9" width="1" height="17.0" fill="#2f8a46"/>
<rect x="84" y="222.5" width="3" height="6.6" fill="#9ee2a0"/>
<rect x="85" y="223.5" width="1" height="4.6" fill="#2f8a46"/>
<rect x="88" y="217.5" width="3" height="6.3" fill="#9ee2a0"/>
<rect x="89" y="218.5" width="1" height="4.3" fill="#2f8a46"/>
<rect x="92" y="207.5" width="3" height="9.4" fill="#9ee2a0"/>
<rect x="93" y="208.5" width="1" height="7.4" fill="#2f8a46"/>
<rect x="96" y="247.2" width="3" height="36.3" fill="#f38aae"/>
<rect x="97" y="248.2" width="1" height="34.3" fill="#bc2c5a"/>
<rect x="100" y="260.0" width="3" height="3.0" fill="#f38aae"/>
<rect x="101" y="261.0" width="1" height="1.0" fill="#bc2c5a"/>
<rect x="104" y="263.7" width="3" height="4.6" fill="#9ee2a0"/>
<rect x="105" y="264.7" width="1" height="2.6" fill="#2f8a46"/>
<rect x="108" y="266.5" width="3" height="31.4" fill="#f38aae"/>
<rect x="109" y="267.5" width="1" height="29.4" fill="#bc2c5a"/>
<rect x="112" y="292.9" width="3" height="4.3" fill="#f38aae"/>
<rect x="113" y="293.9" width="1" height="2.3" fill="#bc2c5a"/>
<rect x="117" y="304.4" width="2" height="18.6" fill="#e0b4c2"/>
<rect x="121" y="313.7" width="2" height="13.3" fill="#e0b4c2"/>
<rect x="125" y="311.1" width="2" height="21.9" fill="#bcd8bc"/>
<rect x="129" y="311.1" width="2" height="9.2" fill="#e0b4c2"/>
<rect x="133" y="315.7" width="2" height="25.3" fill="#e0b4c2"/>
<rect x="137" y="326.4" width="2" height="12.6" fill="#bcd8bc"/>
<rect x="141" y="308.5" width="3" height="13.8" fill="#9ee2a0"/>
<rect x="142" y="309.5" width="1" height="11.8" fill="#2f8a46"/>
<rect x="145" y="309.5" width="3" height="3.4" fill="#9ee2a0"/>
<rect x="146" y="310.5" width="1" height="1.4" fill="#2f8a46"/>
<rect x="149" y="309.5" width="3" height="7.7" fill="#f38aae"/>
<rect x="150" y="310.5" width="1" height="5.7" fill="#bc2c5a"/>
<rect x="153" y="315.3" width="3" height="17.9" fill="#f38aae"/>
<rect x="154" y="316.3" width="1" height="15.9" fill="#bc2c5a"/>
<rect x="157" y="337.9" width="3" height="2.2" fill="#f38aae"/>
<rect x="158" y="338.9" width="1" height="0.2" fill="#bc2c5a"/>
<rect x="161" y="339.9" width="3" height="3.9" fill="#9ee2a0"/>
<rect x="162" y="340.9" width="1" height="1.9" fill="#2f8a46"/>
<rect x="165" y="331.8" width="3" height="7.7" fill="#9ee2a0"/>
<rect x="166" y="332.8" width="1" height="5.7" fill="#2f8a46"/>
<rect x="169" y="332.2" width="3" height="4.8" fill="#f38aae"/>
<rect x="170" y="333.2" width="1" height="2.8" fill="#bc2c5a"/>
<rect x="173" y="333.7" width="3" height="3.3" fill="#9ee2a0"/>
<rect x="174" y="334.7" width="1" height="1.3" fill="#2f8a46"/>
<rect x="177" y="323.0" width="3" height="9.8" fill="#9ee2a0"/>
<rect x="178" y="324.0" width="1" height="7.8" fill="#2f8a46"/>
<rect x="181" y="315.8" width="3" height="12.2" fill="#9ee2a0"/>
<rect x="182" y="316.8" width="1" height="10.2" fill="#2f8a46"/>
<rect x="185" y="312.5" width="3" height="6.0" fill="#9ee2a0"/>
<rect x="186" y="313.5" width="1" height="4.0" fill="#2f8a46"/>
<rect x="189" y="302.7" width="3" height="7.4" fill="#9ee2a0"/>
<rect x="190" y="303.7" width="1" height="5.4" fill="#2f8a46"/>
<rect x="194" y="299.7" width="2" height="4.0" fill="#e0b4c2"/>
<rect x="198" y="299.3" width="2" height="3.0" fill="#bcd8bc"/>
<rect x="202" y="295.7" width="2" height="2.6" fill="#bcd8bc"/>
<rect x="206" y="272.4" width="2" height="23.3" fill="#bcd8bc"/>
<rect x="210" y="270.5" width="2" height="1.8" fill="#e0b4c2"/>
<rect x="214" y="269.1" width="2" height="2.6" fill="#bcd8bc"/>
<rect x="218" y="264.2" width="3" height="7.0" fill="#9ee2a0"/>
<rect x="219" y="265.2" width="1" height="5.0" fill="#2f8a46"/>
<rect x="222" y="261.5" width="3" height="11.7" fill="#f38aae"/>
<rect x="223" y="262.5" width="1" height="9.7" fill="#bc2c5a"/>
<rect x="226" y="273.8" width="3" height="11.7" fill="#f38aae"/>
<rect x="227" y="274.8" width="1" height="9.7" fill="#bc2c5a"/>
<rect x="230" y="284.9" width="3" height="5.0" fill="#f38aae"/>
<rect x="231" y="285.9" width="1" height="3.0" fill="#bc2c5a"/>
<rect x="234" y="287.9" width="3" height="17.3" fill="#f38aae"/>
<rect x="235" y="288.9" width="1" height="15.3" fill="#bc2c5a"/>
<rect x="238" y="302.0" width="3" height="2.5" fill="#9ee2a0"/>
<rect x="239" y="303.0" width="1" height="0.5" fill="#2f8a46"/>
<rect x="242" y="293.5" width="3" height="4.4" fill="#9ee2a0"/>
<rect x="243" y="294.5" width="1" height="2.4" fill="#2f8a46"/>
<rect x="246" y="282.9" width="3" height="9.0" fill="#9ee2a0"/>
<rect x="247" y="283.9" width="1" height="7.0" fill="#2f8a46"/>
<rect x="250" y="280.9" width="3" height="2.3" fill="#9ee2a0"/>
<rect x="251" y="281.9" width="1" height="0.3" fill="#2f8a46"/>
<rect x="254" y="280.9" width="3" height="15.6" fill="#f38aae"/>
<rect x="255" y="281.9" width="1" height="13.6" fill="#bc2c5a"/>
<rect x="258" y="290.9" width="3" height="2.3" fill="#9ee2a0"/>
<rect x="259" y="291.9" width="1" height="0.3" fill="#2f8a46"/>
<rect x="262" y="292.5" width="3" height="3.7" fill="#f38aae"/>
<rect x="263" y="293.5" width="1" height="1.7" fill="#bc2c5a"/>
<rect x="266" y="292.8" width="3" height="3.4" fill="#9ee2a0"/>
<rect x="267" y="293.8" width="1" height="1.4" fill="#2f8a46"/>
<rect x="271" y="293.2" width="2" height="2.1" fill="#bcd8bc"/>
<rect x="275" y="292.1" width="2" height="4.6" fill="#e0b4c2"/>
<rect x="279" y="289.7" width="2" height="3.6" fill="#bcd8bc"/>
<rect x="283" y="286.1" width="2" height="5.2" fill="#bcd8bc"/>
<rect x="287" y="286.7" width="2" height="3.3" fill="#bcd8bc"/>
<rect x="291" y="282.1" width="2" height="7.2" fill="#bcd8bc"/>
<rect x="295" y="277.2" width="3" height="9.7" fill="#9ee2a0"/>
<rect x="296" y="278.2" width="1" height="7.7" fill="#2f8a46"/>
<rect x="299" y="276.5" width="3" height="22.4" fill="#f38aae"/>
<rect x="300" y="277.5" width="1" height="20.4" fill="#bc2c5a"/>
<rect x="303" y="284.5" width="3" height="13.7" fill="#9ee2a0"/>
<rect x="304" y="285.5" width="1" height="11.7" fill="#2f8a46"/>
<rect x="307" y="286.5" width="3" height="20.4" fill="#f38aae"/>
<rect x="308" y="287.5" width="1" height="18.4" fill="#bc2c5a"/>
<rect x="311" y="297.5" width="3" height="8.0" fill="#9ee2a0"/>
<rect x="312" y="298.5" width="1" height="6.0" fill="#2f8a46"/>
<rect x="315" y="300.5" width="3" height="5.7" fill="#f38aae"/>
<rect x="316" y="301.5" width="1" height="3.7" fill="#bc2c5a"/>
<rect x="319" y="294.5" width="3" height="11.0" fill="#9ee2a0"/>
<rect x="320" y="295.5" width="1" height="9.0" fill="#2f8a46"/>
<rect x="323" y="278.5" width="3" height="14.4" fill="#9ee2a0"/>
<rect x="324" y="279.5" width="1" height="12.4" fill="#2f8a46"/>
<rect x="327" y="273.9" width="3" height="4.3" fill="#9ee2a0"/>
<rect x="328" y="274.9" width="1" height="2.3" fill="#2f8a46"/>
<rect x="331" y="268.5" width="3" height="4.4" fill="#9ee2a0"/>
<rect x="332" y="269.5" width="1" height="2.4" fill="#2f8a46"/>
<rect x="335" y="268.9" width="3" height="4.0" fill="#f38aae"/>
<rect x="336" y="269.9" width="1" height="2.0" fill="#bc2c5a"/>
<rect x="339" y="295.9" width="3" height="10.3" fill="#f38aae"/>
<rect x="340" y="296.9" width="1" height="8.3" fill="#bc2c5a"/>
<rect x="343" y="297.0" width="3" height="11.2" fill="#f38aae"/>
<rect x="344" y="298.0" width="1" height="9.2" fill="#bc2c5a"/>
<rect x="348" y="316.1" width="2" height="7.2" fill="#e0b4c2"/>
<rect x="352" y="304.1" width="2" height="12.6" fill="#bcd8bc"/>
<rect x="356" y="296.7" width="2" height="11.3" fill="#bcd8bc"/>
<rect x="360" y="300.7" width="2" height="3.3" fill="#bcd8bc"/>
<rect x="364" y="308.7" width="2" height="9.3" fill="#e0b4c2"/>
<rect x="368" y="366.4" width="2" height="27.9" fill="#e0b4c2"/>
<rect x="372" y="382.4" width="3" height="22.9" fill="#f38aae"/>
<rect x="373" y="383.4" width="1" height="20.9" fill="#bc2c5a"/>
<rect x="376" y="396.7" width="3" height="5.5" fill="#9ee2a0"/>
<rect x="377" y="397.7" width="1" height="3.5" fill="#2f8a46"/>
<rect x="380" y="393.0" width="3" height="2.5" fill="#f38aae"/>
<rect x="381" y="394.0" width="1" height="0.5" fill="#bc2c5a"/>
<rect x="384" y="378.2" width="3" height="9.1" fill="#9ee2a0"/>
<rect x="385" y="379.2" width="1" height="7.1" fill="#2f8a46"/>
<rect x="388" y="360.9" width="3" height="17.3" fill="#9ee2a0"/>
<rect x="389" y="361.9" width="1" height="15.3" fill="#2f8a46"/>
<rect x="392" y="347.5" width="3" height="6.6" fill="#9ee2a0"/>
<rect x="393" y="348.5" width="1" height="4.6" fill="#2f8a46"/>
<rect x="396" y="349.5" width="3" height="5.0" fill="#9ee2a0"/>
<rect x="397" y="350.5" width="1" height="3.0" fill="#2f8a46"/>
<rect x="400" y="343.5" width="3" height="5.0" fill="#f38aae"/>
<rect x="401" y="344.5" width="1" height="3.0" fill="#bc2c5a"/>
<rect x="404" y="344.9" width="3" height="4.3" fill="#9ee2a0"/>
<rect x="405" y="345.9" width="1" height="2.3" fill="#2f8a46"/>
<rect x="408" y="341.5" width="3" height="5.0" fill="#9ee2a0"/>
<rect x="409" y="342.5" width="1" height="3.0" fill="#2f8a46"/>
<rect x="412" y="338.2" width="3" height="3.0" fill="#f38aae"/>
<rect x="413" y="339.2" width="1" height="1.0" fill="#bc2c5a"/>
<rect x="416" y="340.5" width="3" height="13.0" fill="#f38aae"/>
<rect x="417" y="341.5" width="1" height="11.0" fill="#bc2c5a"/>
<rect x="420" y="322.7" width="3" height="16.3" fill="#9ee2a0"/>
<rect x="421" y="323.7" width="1" height="14.3" fill="#2f8a46"/>
<rect x="425" y="321.7" width="2" height="2.6" fill="#e0b4c2"/>
<rect x="429" y="322.2" width="2" height="4.1" fill="#e0b4c2"/>
<rect x="433" y="323.2" width="2" height="4.6" fill="#bcd8bc"/>
<rect x="437" y="323.4" width="2" height="7.9" fill="#bcd8bc"/>
<rect x="441" y="321.7" width="2" height="4.1" fill="#bcd8bc"/>
<rect x="445" y="317.9" width="3" height="6.3" fill="#9ee2a0"/>
<rect x="446" y="318.9" width="1" height="4.3" fill="#2f8a46"/>
<rect x="449" y="316.7" width="3" height="13.5" fill="#f38aae"/>
<rect x="450" y="317.7" width="1" height="11.5" fill="#bc2c5a"/>
<rect x="453" y="320.7" width="3" height="7.3" fill="#9ee2a0"/>
<rect x="454" y="321.7" width="1" height="5.3" fill="#2f8a46"/>
<rect x="457" y="311.3" width="3" height="13.6" fill="#9ee2a0"/>
<rect x="458" y="312.3" width="1" height="11.6" fill="#2f8a46"/>
<rect x="461" y="308.7" width="3" height="6.0" fill="#9ee2a0"/>
<rect x="462" y="309.7" width="1" height="4.0" fill="#2f8a46"/>
<rect x="465" y="307.5" width="3" height="4.7" fill="#9ee2a0"/>
<rect x="466" y="308.5" width="1" height="2.7" fill="#2f8a46"/>
<rect x="469" y="304.5" width="3" height="5.7" fill="#f38aae"/>
<rect x="470" y="305.5" width="1" height="3.7" fill="#bc2c5a"/>
<rect x="473" y="310.5" width="3" height="5.0" fill="#f38aae"/>
<rect x="474" y="311.5" width="1" height="3.0" fill="#bc2c5a"/>
<rect x="477" y="301.7" width="3" height="15.8" fill="#9ee2a0"/>
<rect x="478" y="302.7" width="1" height="13.8" fill="#2f8a46"/>
<rect x="481" y="303.6" width="3" height="2.2" fill="#f38aae"/>
<rect x="482" y="304.6" width="1" height="0.2" fill="#bc2c5a"/>
<rect x="485" y="302.5" width="3" height="3.7" fill="#9ee2a0"/>
<rect x="486" y="303.5" width="1" height="1.7" fill="#2f8a46"/>
<rect x="489" y="301.7" width="3" height="10.3" fill="#f38aae"/>
<rect x="490" y="302.7" width="1" height="8.3" fill="#bc2c5a"/>
<rect x="493" y="308.9" width="3" height="6.4" fill="#9ee2a0"/>
<rect x="494" y="309.9" width="1" height="4.4" fill="#2f8a46"/>
<rect x="498" y="311.7" width="2" height="4.2" fill="#e0b4c2"/>
<rect x="502" y="315.4" width="2" height="8.6" fill="#e0b4c2"/>
<rect x="506" y="321.4" width="2" height="18.6" fill="#e0b4c2"/>
<rect x="510" y="328.7" width="2" height="6.6" fill="#bcd8bc"/>
<rect x="514" y="330.1" width="2" height="7.9" fill="#bcd8bc"/>
<rect x="518" y="302.7" width="2" height="28.6" fill="#bcd8bc"/>
<rect x="522" y="257.5" width="3" height="46.5" fill="#9ee2a0"/>
<rect x="523" y="258.5" width="1" height="44.5" fill="#2f8a46"/>
<rect x="526" y="261.5" width="3" height="5.0" fill="#9ee2a0"/>
<rect x="527" y="262.5" width="1" height="3.0" fill="#2f8a46"/>
<rect x="530" y="248.2" width="3" height="11.7" fill="#9ee2a0"/>
<rect x="531" y="249.2" width="1" height="9.7" fill="#2f8a46"/>
<rect x="534" y="243.5" width="3" height="5.7" fill="#9ee2a0"/>
<rect x="535" y="244.5" width="1" height="3.7" fill="#2f8a46"/>
<rect x="538" y="243.7" width="3" height="2.3" fill="#f38aae"/>
<rect x="539" y="244.7" width="1" height="0.3" fill="#bc2c5a"/>
<rect x="542" y="240.9" width="3" height="4.2" fill="#f38aae"/>
<rect x="543" y="241.9" width="1" height="2.2" fill="#bc2c5a"/>
<rect x="546" y="236.7" width="3" height="3.3" fill="#9ee2a0"/>
<rect x="547" y="237.7" width="1" height="1.3" fill="#2f8a46"/>
<rect x="550" y="234.7" width="3" height="18.1" fill="#f38aae"/>
<rect x="551" y="235.7" width="1" height="16.1" fill="#bc2c5a"/>
<rect x="554" y="252.8" width="3" height="11.2" fill="#f38aae"/>
<rect x="555" y="253.8" width="1" height="9.2" fill="#bc2c5a"/>
<rect x="558" y="260.7" width="3" height="7.9" fill="#f38aae"/>
<rect x="559" y="261.7" width="1" height="5.9" fill="#bc2c5a"/>
<rect x="562" y="256.7" width="3" height="11.9" fill="#9ee2a0"/>
<rect x="563" y="257.7" width="1" height="9.9" fill="#2f8a46"/>
<rect x="566" y="258.7" width="3" height="5.3" fill="#f38aae"/>
<rect x="567" y="259.7" width="1" height="3.3" fill="#bc2c5a"/>
<rect x="570" y="275.1" width="3" height="10.7" fill="#9ee2a0"/>
<rect x="571" y="276.1" width="1" height="8.7" fill="#2f8a46"/>
<rect x="575" y="270.1" width="2" height="3.5" fill="#bcd8bc"/>
<rect x="579" y="271.3" width="2" height="6.3" fill="#e0b4c2"/>
<rect x="583" y="265.5" width="2" height="13.8" fill="#bcd8bc"/>
<rect x="587" y="260.9" width="2" height="11.5" fill="#bcd8bc"/>
<rect x="591" y="258.1" width="2" height="10.3" fill="#bcd8bc"/>
<rect x="595" y="258.4" width="2" height="10.0" fill="#bcd8bc"/>
<rect x="599" y="258.2" width="3" height="4.7" fill="#f38aae"/>
<rect x="600" y="259.2" width="1" height="2.7" fill="#bc2c5a"/>
<rect x="603" y="257.9" width="3" height="10.2" fill="#f38aae"/>
<rect x="604" y="258.9" width="1" height="8.2" fill="#bc2c5a"/>
<rect x="607" y="243.5" width="3" height="7.4" fill="#9ee2a0"/>
<rect x="608" y="244.5" width="1" height="5.4" fill="#2f8a46"/>
<rect x="611" y="230.5" width="3" height="18.3" fill="#9ee2a0"/>
<rect x="612" y="231.5" width="1" height="16.3" fill="#2f8a46"/>
<rect x="615" y="206.9" width="3" height="23.0" fill="#9ee2a0"/>
<rect x="616" y="207.9" width="1" height="21.0" fill="#2f8a46"/>
<rect x="619" y="198.9" width="3" height="13.0" fill="#9ee2a0"/>
<rect x="620" y="199.9" width="1" height="11.0" fill="#2f8a46"/>
<rect x="623" y="185.5" width="3" height="11.7" fill="#9ee2a0"/>
<rect x="624" y="186.5" width="1" height="9.7" fill="#2f8a46"/>
<rect x="627" y="176.7" width="3" height="8.2" fill="#9ee2a0"/>
<rect x="628" y="177.7" width="1" height="6.2" fill="#2f8a46"/>
<rect x="631" y="181.5" width="3" height="6.4" fill="#f38aae"/>
<rect x="632" y="182.5" width="1" height="4.4" fill="#bc2c5a"/>
<rect x="635" y="155.6" width="3" height="21.3" fill="#9ee2a0"/>
<rect x="636" y="156.6" width="1" height="19.3" fill="#2f8a46"/>
<rect x="639" y="139.9" width="3" height="17.3" fill="#9ee2a0"/>
<rect x="640" y="140.9" width="1" height="15.3" fill="#2f8a46"/>
<rect x="643" y="118.8" width="3" height="19.4" fill="#9ee2a0"/>
<rect x="644" y="119.8" width="1" height="17.4" fill="#2f8a46"/>
<rect x="647" y="115.4" width="3" height="10.5" fill="#9ee2a0"/>
<rect x="648" y="116.4" width="1" height="8.5" fill="#2f8a46"/>
<rect x="652" y="112.7" width="2" height="13.3" fill="#bcd8bc"/>
<rect x="656" y="114.7" width="2" height="16.6" fill="#bcd8bc"/>
<rect x="660" y="108.7" width="2" height="13.4" fill="#bcd8bc"/>
<rect x="664" y="94.7" width="2" height="17.6" fill="#bcd8bc"/>
<rect x="668" y="98.1" width="2" height="2.6" fill="#e0b4c2"/>
<rect x="672" y="87.4" width="2" height="15.9" fill="#bcd8bc"/>
<rect x="676" y="79.9" width="3" height="11.0" fill="#9ee2a0"/>
<rect x="677" y="80.9" width="1" height="9.0" fill="#2f8a46"/>
<rect x="680" y="50.8" width="3" height="26.1" fill="#9ee2a0"/>
<rect x="681" y="51.8" width="1" height="24.1" fill="#2f8a46"/>
<rect x="684" y="55.8" width="3" height="2.4" fill="#9ee2a0"/>
<rect x="685" y="56.8" width="1" height="0.4" fill="#2f8a46"/>
<rect x="688" y="60.5" width="3" height="16.4" fill="#f38aae"/>
<rect x="689" y="61.5" width="1" height="14.4" fill="#bc2c5a"/>
<rect x="692" y="77.0" width="3" height="13.2" fill="#f38aae"/>
<rect x="693" y="78.0" width="1" height="11.2" fill="#bc2c5a"/>
<rect x="696" y="92.5" width="3" height="6.4" fill="#f38aae"/>
<rect x="697" y="93.5" width="1" height="4.4" fill="#bc2c5a"/>
<rect x="700" y="96.7" width="3" height="11.4" fill="#f38aae"/>
<rect x="701" y="97.7" width="1" height="9.4" fill="#bc2c5a"/>
<rect x="704" y="107.1" width="3" height="15.0" fill="#f38aae"/>
<rect x="705" y="108.1" width="1" height="13.0" fill="#bc2c5a"/>
<rect x="708" y="113.7" width="3" height="11.4" fill="#f38aae"/>
<rect x="709" y="114.7" width="1" height="9.4" fill="#bc2c5a"/>
<rect x="712" y="122.4" width="3" height="11.6" fill="#f38aae"/>
<rect x="713" y="123.4" width="1" height="9.6" fill="#bc2c5a"/>
<rect x="716" y="128.9" width="3" height="15.8" fill="#f38aae"/>
<rect x="717" y="129.9" width="1" height="13.8" fill="#bc2c5a"/>
<rect x="720" y="135.7" width="3" height="7.0" fill="#9ee2a0"/>
<rect x="721" y="136.7" width="1" height="5.0" fill="#2f8a46"/>
<rect x="724" y="123.5" width="3" height="2.5" fill="#9ee2a0"/>
<rect x="725" y="124.5" width="1" height="0.5" fill="#2f8a46"/>
<rect x="729" y="110.4" width="2" height="15.3" fill="#bcd8bc"/>
<rect x="733" y="84.5" width="2" height="23.4" fill="#bcd8bc"/>
<rect x="737" y="85.2" width="2" height="7.3" fill="#e0b4c2"/>
<rect x="741" y="85.2" width="2" height="18.1" fill="#e0b4c2"/>
<rect x="745" y="89.5" width="2" height="11.6" fill="#bcd8bc"/>
<rect x="749" y="76.9" width="2" height="11.6" fill="#bcd8bc"/>
<rect x="753" y="74.9" width="3" height="2.2" fill="#f38aae"/>
<rect x="754" y="75.9" width="1" height="0.2" fill="#bc2c5a"/>
<rect x="757" y="78.5" width="3" height="7.2" fill="#9ee2a0"/>
<rect x="758" y="79.5" width="1" height="5.2" fill="#2f8a46"/>
<rect x="761" y="75.1" width="3" height="2.6" fill="#9ee2a0"/>
<rect x="762" y="76.1" width="1" height="0.6" fill="#2f8a46"/>
<rect x="765" y="73.9" width="3" height="2.2" fill="#9ee2a0"/>
<rect x="766" y="74.9" width="1" height="0.2" fill="#2f8a46"/>
<rect x="769" y="73.3" width="3" height="2.2" fill="#9ee2a0"/>
<rect x="770" y="74.3" width="1" height="0.2" fill="#2f8a46"/>
<rect x="773" y="72.4" width="3" height="2.2" fill="#9ee2a0"/>
<rect x="774" y="73.4" width="1" height="0.2" fill="#2f8a46"/>
<rect x="777" y="72.3" width="3" height="5.7" fill="#f38aae"/>
<rect x="778" y="73.3" width="1" height="3.7" fill="#bc2c5a"/>
<rect x="781" y="72.5" width="3" height="4.3" fill="#9ee2a0"/>
<rect x="782" y="73.5" width="1" height="2.3" fill="#2f8a46"/>
<rect x="785" y="80.7" width="3" height="21.4" fill="#f38aae"/>
<rect x="786" y="81.7" width="1" height="19.4" fill="#bc2c5a"/>
<rect x="789" y="84.3" width="3" height="15.8" fill="#9ee2a0"/>
<rect x="790" y="85.3" width="1" height="13.8" fill="#2f8a46"/>
<rect x="793" y="52.5" width="3" height="23.6" fill="#9ee2a0"/>
<rect x="794" y="53.5" width="1" height="21.6" fill="#2f8a46"/>
<rect x="797" y="48.5" width="3" height="21.5" fill="#f38aae"/>
<rect x="798" y="49.5" width="1" height="19.5" fill="#bc2c5a"/>
<rect x="801" y="67.3" width="3" height="18.2" fill="#f38aae"/>
<rect x="802" y="68.3" width="1" height="16.2" fill="#bc2c5a"/>
<rect x="806" y="71.7" width="2" height="17.1" fill="#bcd8bc"/>
<rect x="810" y="70.9" width="2" height="5.2" fill="#e0b4c2"/>
<rect x="814" y="71.2" width="2" height="15.6" fill="#e0b4c2"/>
<rect x="818" y="85.7" width="2" height="21.3" fill="#e0b4c2"/>
<rect x="822" y="102.4" width="2" height="11.3" fill="#bcd8bc"/>
<rect x="826" y="98.4" width="2" height="14.3" fill="#bcd8bc"/>
<rect x="830" y="73.5" width="3" height="26.2" fill="#9ee2a0"/>
<rect x="831" y="74.5" width="1" height="24.2" fill="#2f8a46"/>
<rect x="834" y="67.2" width="3" height="7.5" fill="#9ee2a0"/>
<rect x="835" y="68.2" width="1" height="5.5" fill="#2f8a46"/>
<rect x="838" y="69.5" width="3" height="16.2" fill="#f38aae"/>
<rect x="839" y="70.5" width="1" height="14.2" fill="#bc2c5a"/>
<rect x="842" y="84.9" width="3" height="2.2" fill="#9ee2a0"/>
<rect x="843" y="85.9" width="1" height="0.2" fill="#2f8a46"/>
<rect x="846" y="84.7" width="3" height="18.3" fill="#f38aae"/>
<rect x="847" y="85.7" width="1" height="16.3" fill="#bc2c5a"/>
<rect x="850" y="109.5" width="3" height="5.0" fill="#f38aae"/>
<rect x="851" y="110.5" width="1" height="3.0" fill="#bc2c5a"/>
<rect x="854" y="112.2" width="3" height="2.2" fill="#f38aae"/>
<rect x="855" y="113.2" width="1" height="0.2" fill="#bc2c5a"/>
<rect x="858" y="103.5" width="3" height="4.4" fill="#9ee2a0"/>
<rect x="859" y="104.5" width="1" height="2.4" fill="#2f8a46"/>
<rect x="862" y="98.2" width="3" height="7.0" fill="#9ee2a0"/>
<rect x="863" y="99.2" width="1" height="5.0" fill="#2f8a46"/>
<rect x="866" y="101.5" width="3" height="28.4" fill="#f38aae"/>
<rect x="867" y="102.5" width="1" height="26.4" fill="#bc2c5a"/>
<rect x="870" y="53.5" width="3" height="24.2" fill="#9ee2a0"/>
<rect x="871" y="54.5" width="1" height="22.2" fill="#2f8a46"/>
<rect x="874" y="83.5" width="3" height="33.7" fill="#f38aae"/>
<rect x="875" y="84.5" width="1" height="31.7" fill="#bc2c5a"/>
<rect x="878" y="88.9" width="3" height="3.0" fill="#9ee2a0"/>
<rect x="879" y="89.9" width="1" height="1.0" fill="#2f8a46"/>
<rect x="883" y="75.0" width="2" height="25.3" fill="#e0b4c2"/>
<rect x="887" y="91.7" width="2" height="22.0" fill="#e0b4c2"/>
<rect x="891" y="111.7" width="2" height="10.0" fill="#e0b4c2"/>
<rect x="895" y="101.7" width="2" height="11.3" fill="#bcd8bc"/>
<rect x="899" y="99.7" width="2" height="2.1" fill="#bcd8bc"/>
<rect x="903" y="97.7" width="2" height="6.6" fill="#e0b4c2"/>
<rect x="907" y="105.5" width="3" height="10.4" fill="#f38aae"/>
<rect x="908" y="106.5" width="1" height="8.4" fill="#bc2c5a"/>
<rect x="911" y="112.9" width="3" height="9.6" fill="#9ee2a0"/>
<rect x="912" y="113.9" width="1" height="7.6" fill="#2f8a46"/>
<rect x="915" y="112.9" width="3" height="11.6" fill="#f38aae"/>
<rect x="916" y="113.9" width="1" height="9.6" fill="#bc2c5a"/>
<rect x="919" y="86.9" width="3" height="10.3" fill="#9ee2a0"/>
<rect x="920" y="87.9" width="1" height="8.3" fill="#2f8a46"/>
<rect x="923" y="97.5" width="3" height="2.5" fill="#f38aae"/>
<rect x="924" y="98.5" width="1" height="0.5" fill="#bc2c5a"/>
<rect x="927" y="102.9" width="3" height="7.4" fill="#f38aae"/>
<rect x="928" y="103.9" width="1" height="5.4" fill="#bc2c5a"/>
<rect x="931" y="111.8" width="3" height="3.2" fill="#f38aae"/>
<rect x="932" y="112.8" width="1" height="1.2" fill="#bc2c5a"/>
<rect x="935" y="92.2" width="3" height="25.0" fill="#9ee2a0"/>
<rect x="936" y="93.2" width="1" height="23.0" fill="#2f8a46"/>
<rect x="939" y="96.9" width="3" height="21.3" fill="#f38aae"/>
<rect x="940" y="97.9" width="1" height="19.3" fill="#bc2c5a"/>
<rect x="943" y="118.8" width="3" height="6.2" fill="#f38aae"/>
<rect x="944" y="119.8" width="1" height="4.2" fill="#bc2c5a"/>
<rect x="947" y="120.8" width="3" height="7.4" fill="#f38aae"/>
<rect x="948" y="121.8" width="1" height="5.4" fill="#bc2c5a"/>
<rect x="951" y="136.9" width="3" height="6.3" fill="#f38aae"/>
<rect x="952" y="137.9" width="1" height="4.3" fill="#bc2c5a"/>
<rect x="955" y="136.9" width="3" height="12.3" fill="#9ee2a0"/>
<rect x="956" y="137.9" width="1" height="10.3" fill="#2f8a46"/>
<rect x="960" y="123.1" width="2" height="17.9" fill="#bcd8bc"/>
<rect x="964" y="124.4" width="2" height="5.9" fill="#e0b4c2"/>
<rect x="968" y="131.1" width="2" height="4.6" fill="#e0b4c2"/>
<rect x="972" y="134.4" width="2" height="11.9" fill="#e0b4c2"/>
<rect x="976" y="140.4" width="2" height="5.3" fill="#bcd8bc"/>
<rect x="980" y="135.7" width="2" height="3.3" fill="#e0b4c2"/>
<rect x="984" y="144.5" width="3" height="36.7" fill="#f38aae"/>
<rect x="985" y="145.5" width="1" height="34.7" fill="#bc2c5a"/>
<rect x="988" y="183.6" width="3" height="6.4" fill="#f38aae"/>
<rect x="989" y="184.6" width="1" height="4.4" fill="#bc2c5a"/>
<rect x="992" y="189.9" width="3" height="2.8" fill="#9ee2a0"/>
<rect x="993" y="190.9" width="1" height="0.8" fill="#2f8a46"/>
<rect x="996" y="194.8" width="3" height="3.2" fill="#f38aae"/>
<rect x="997" y="195.8" width="1" height="1.2" fill="#bc2c5a"/>
<rect x="1000" y="192.8" width="3" height="3.2" fill="#f38aae"/>
<rect x="1001" y="193.8" width="1" height="1.2" fill="#bc2c5a"/>
<rect x="1004" y="197.0" width="3" height="3.7" fill="#f38aae"/>
<rect x="1005" y="198.0" width="1" height="1.7" fill="#bc2c5a"/>
<rect x="1008" y="190.8" width="3" height="3.2" fill="#9ee2a0"/>
<rect x="1009" y="191.8" width="1" height="1.2" fill="#2f8a46"/>
<rect x="1012" y="192.8" width="3" height="13.2" fill="#f38aae"/>
<rect x="1013" y="193.8" width="1" height="11.2" fill="#bc2c5a"/>
<rect x="1016" y="205.5" width="3" height="13.4" fill="#f38aae"/>
<rect x="1017" y="206.5" width="1" height="11.4" fill="#bc2c5a"/>
<rect x="1020" y="210.5" width="3" height="2.4" fill="#f38aae"/>
<rect x="1021" y="211.5" width="1" height="0.4" fill="#bc2c5a"/>
<rect x="1024" y="187.7" width="3" height="20.1" fill="#9ee2a0"/>
<rect x="1025" y="188.7" width="1" height="18.1" fill="#2f8a46"/>
<rect x="1028" y="156.2" width="3" height="28.0" fill="#9ee2a0"/>
<rect x="1029" y="157.2" width="1" height="26.0" fill="#2f8a46"/>
<path d="M12.6,240.5 L16.2,241.0 L20.9,241.7 L26.6,242.5 L32.9,243.4 L39.6,244.3 L46.4,245.2 L53.1,246.0 L59.4,246.7 L65.5,247.2 L71.6,247.7 L77.7,248.1 L84.0,248.4 L90.2,248.7 L96.4,249.0 L102.6,249.3 L108.8,249.7 L115.0,250.1 L121.1,250.4 L127.3,250.7 L133.4,251.0 L139.5,251.3 L145.7,251.7 L151.8,252.2 L158.0,252.7 L164.2,253.3 L170.4,254.0 L176.5,254.8 L182.7,255.6 L188.9,256.5 L195.1,257.3 L201.3,258.2 L207.5,259.0 L213.8,259.8 L220.3,260.7 L226.8,261.6 L233.3,262.5 L239.6,263.4 L245.8,264.2 L251.6,265.0 L257.0,265.7 L261.9,266.3 L266.3,266.8 L270.3,267.3 L274.1,267.7 L277.9,268.1 L281.7,268.5 L285.7,269.0 L290.0,269.4 L294.6,269.9 L299.5,270.3 L304.4,270.7 L309.4,271.2 L314.5,271.6 L319.6,272.1 L324.5,272.6 L329.4,273.1 L334.1,273.7 L338.8,274.2 L343.4,274.8 L348.0,275.4 L352.6,276.1 L357.2,276.7 L361.8,277.4 L366.4,278.1 L371.0,278.8 L375.7,279.6 L380.3,280.4 L384.9,281.3 L389.6,282.1 L394.2,282.9 L398.9,283.6 L403.5,284.3 L408.1,284.9 L412.8,285.5 L417.4,286.0 L422.0,286.5 L426.6,286.9 L431.3,287.3 L435.9,287.7 L440.5,288.0 L445.1,288.2 L449.7,288.4 L454.4,288.5 L459.0,288.6 L463.6,288.7 L468.2,288.7 L472.9,288.8 L477.5,288.9 L482.1,289.1 L486.6,289.3 L491.0,289.5 L495.5,289.7 L500.1,289.9 L504.7,290.1 L509.6,290.2 L514.6,290.2 L519.9,290.1 L525.5,290.0 L531.2,289.8 L537.1,289.5 L543.0,289.3 L548.8,289.0 L554.5,288.7 L560.0,288.5 L565.4,288.3 L570.9,288.1 L576.3,287.9 L581.7,287.8 L586.8,287.6 L591.7,287.4 L596.2,287.2 L600.3,287.0 L603.5,286.9 L605.8,286.8 L607.6,286.8 L609.2,286.7 L610.9,286.6 L613.3,286.3 L616.6,285.8 L621.2,285.1 L627.3,284.1 L634.5,282.7 L642.7,281.2 L651.4,279.5 L660.5,277.7 L669.7,276.0 L678.6,274.4 L687.0,273.0 L695.0,271.8 L702.7,270.8 L710.4,269.9 L718.1,269.1 L725.9,268.2 L733.8,267.1 L742.0,265.9 L750.5,264.5 L759.6,262.8 L769.3,260.7 L779.3,258.5 L789.4,256.2 L799.4,253.9 L809.1,251.6 L818.3,249.5 L826.7,247.5 L834.4,245.7 L841.6,243.9 L848.4,242.2 L854.8,240.5 L860.8,239.0 L866.6,237.5 L872.1,236.2 L877.5,235.0 L882.6,234.0 L887.2,233.1 L891.6,232.4 L895.7,231.8 L899.7,231.2 L903.5,230.6 L907.4,230.0 L911.3,229.2 L915.1,228.3 L918.7,227.5 L922.2,226.6 L925.6,225.6 L929.1,224.7 L932.8,223.7 L936.7,222.6 L941.0,221.6 L945.7,220.5 L950.6,219.3 L955.8,218.1 L961.1,216.9 L966.6,215.6 L972.2,214.4 L977.8,213.3 L983.3,212.2 L989.2,211.2 L995.6,210.1 L1002.3,209.1 L1008.9,208.1 L1015.2,207.2 L1020.9,206.4 L1025.6,205.7 L1029.2,205.2" fill="none" stroke="#4ecdc4" stroke-width="1.2" stroke-linejoin="round"/>
<path d="M12.6,245.6 L19.9,244.8 L34.7,246.7 L59.4,253.4 L91.5,254.6 L108.8,258.3 L133.5,270.7 L158.0,283.0 L182.8,291.7 L211.1,297.7 L215.2,297.6 L219.3,297.6 L223.3,297.3 L227.4,296.5 L231.4,295.6 L235.5,295.0 L239.5,294.9 L243.6,294.0 L247.6,293.1 L251.7,292.5 L255.7,292.2 L259.8,291.5 L263.8,292.4 L267.9,292.9 L271.9,293.6 L276.0,294.4 L280.0,295.5 L284.1,296.8 L288.2,298.1 L292.2,299.4 L296.3,300.8 L300.3,301.1 L304.4,301.6 L308.4,302.4 L312.5,302.4 L316.5,302.6 L320.6,302.0 L324.6,301.1 L328.7,300.3 L332.7,299.3 L336.8,298.0 L340.8,297.5 L344.9,297.5 L348.9,297.8 L353.0,297.5 L357.1,296.8 L361.1,296.0 L365.2,295.6 L369.2,296.8 L373.3,298.2 L377.3,299.4 L381.4,300.9 L385.4,302.1 L389.5,303.1 L393.5,304.0 L397.6,304.9 L401.6,305.9 L405.7,306.9 L409.7,308.3 L413.8,309.6 L417.9,311.3 L421.9,312.5 L426.0,313.5 L430.0,314.3 L434.1,315.0 L438.1,315.4 L442.2,315.8 L446.2,316.3 L450.3,317.2 L454.3,318.0 L458.4,318.3 L462.4,318.7 L466.5,318.9 L470.5,319.2 L474.6,319.7 L478.6,319.8 L482.7,320.1 L486.8,320.4 L490.8,320.9 L494.9,321.4 L498.9,322.2 L503.0,322.7 L507.0,323.8 L511.1,324.3 L515.1,324.9 L519.2,324.9 L523.2,324.1 L527.3,323.8 L531.3,323.3 L535.4,322.8 L539.4,322.2 L543.5,321.0 L547.5,319.6 L551.6,318.2 L555.7,317.4 L559.7,316.8 L563.8,315.9 L567.8,314.8 L571.9,312.4 L575.9,309.8 L580.0,307.4 L584.0,304.8 L588.1,302.4 L592.1,300.4 L596.2,298.6 L600.2,296.8 L604.3,295.2 L608.3,293.2 L612.4,291.0 L616.4,288.3 L620.5,285.2 L624.6,282.5 L628.6,279.6 L632.7,276.8 L636.7,273.4 L640.8,269.8 L644.8,265.7 L648.9,261.7 L652.9,257.3 L657.0,253.2 L661.0,249.2 L665.1,244.9 L669.1,240.7 L673.2,236.3 L677.2,231.6 L681.3,226.6 L685.3,221.6 L689.4,217.1 L693.5,212.6 L697.5,208.4 L701.6,204.2 L705.6,200.2 L709.7,195.9 L713.7,192.0 L717.8,188.3 L721.8,184.9 L725.9,182.2 L729.9,179.2 L734.0,175.9 L738.0,172.9 L742.1,170.1 L746.1,167.0 L750.2,163.8 L754.2,160.2 L758.3,156.6 L762.4,152.7 L766.4,149.1 L770.5,145.3 L774.5,141.2 L778.6,137.3 L782.6,133.3 L786.7,130.0 L790.7,126.5 L794.8,122.3 L798.8,118.6 L802.9,115.0 L806.9,111.1 L811.0,107.7 L815.0,104.8 L819.1,102.8 L823.1,100.9 L827.2,99.1 L831.3,97.1 L835.3,94.7 L839.4,93.3 L843.4,92.2 L847.5,91.8 L851.5,91.8 L855.6,91.8 L859.6,91.6 L863.7,91.4 L867.7,92.1 L871.8,91.2 L875.8,91.7 L879.9,91.9 L883.9,92.9 L888.0,94.0 L892.1,94.9 L896.1,95.2 L900.2,95.2 L904.2,95.1 L908.3,95.0 L912.3,94.8 L916.4,94.6 L920.4,93.5 L924.5,92.7 L928.5,92.4 L932.6,92.5 L936.6,92.7 L940.7,93.2 L944.7,93.6 L948.8,94.4 L952.8,95.7 L956.9,96.9 L961.0,97.8 L965.0,98.9 L969.1,100.1 L973.1,101.5 L977.2,102.9 L981.2,104.1 L985.3,106.3 L989.3,108.0 L993.4,110.1 L997.4,113.0 L1001.5,115.6 L1005.5,117.9 L1009.6,120.2 L1013.6,122.8 L1017.7,125.5 L1021.7,127.6 L1025.8,129.3 L1029.9,130.5" fill="none" stroke="#f06a6a" stroke-width="1.2" stroke-linejoin="round"/>
<path d="M12.6,251.5 L34.7,271.9 L56.9,288.0 L74.2,291.2 L89.6,283.8 L93.6,280.4 L97.7,281.2 L101.7,280.0 L105.8,277.0 L109.8,275.1 L113.9,273.4 L117.9,273.9 L122.0,273.4 L126.0,272.6 L130.1,273.0 L134.1,274.5 L138.2,274.6 L142.2,277.4 L146.3,279.6 L150.4,282.5 L154.4,286.2 L158.5,291.4 L162.5,297.5 L166.6,302.9 L170.6,308.9 L174.7,315.2 L178.7,317.2 L182.8,319.9 L186.8,322.3 L190.9,322.6 L194.9,322.9 L199.0,321.8 L203.0,320.3 L207.1,318.3 L211.1,315.9 L215.2,312.4 L219.3,309.3 L223.3,307.4 L227.4,306.2 L231.4,304.8 L235.5,303.4 L239.5,301.6 L243.6,299.3 L247.6,296.8 L251.7,294.1 L255.7,292.1 L259.8,290.5 L263.8,289.5 L267.9,288.5 L271.9,288.0 L276.0,287.7 L280.0,287.2 L284.1,286.7 L288.2,287.4 L292.2,288.0 L296.3,288.4 L300.3,290.1 L304.4,290.7 L308.4,291.7 L312.5,292.2 L316.5,292.2 L320.6,291.9 L324.6,291.1 L328.7,290.7 L332.7,290.0 L336.8,288.9 L340.8,289.6 L344.9,290.2 L348.9,291.7 L353.0,292.2 L357.1,292.2 L361.1,292.8 L365.2,294.3 L369.2,299.7 L373.3,305.8 L377.3,311.8 L381.4,316.6 L385.4,321.3 L389.5,324.1 L393.5,326.6 L397.6,328.8 L401.6,331.4 L405.7,334.7 L409.7,338.1 L413.8,341.7 L417.9,345.7 L421.9,346.6 L426.0,347.4 L430.0,347.6 L434.1,348.5 L438.1,349.9 L442.2,350.9 L446.2,350.9 L450.3,347.7 L454.3,343.6 L458.4,339.3 L462.4,335.0 L466.5,331.5 L470.5,328.9 L474.6,327.2 L478.6,324.8 L482.7,322.7 L486.8,320.6 L490.8,319.1 L494.9,317.5 L498.9,315.6 L503.0,315.6 L507.0,316.4 L511.1,316.6 L515.1,316.9 L519.2,315.9 L523.2,312.7 L527.3,309.9 L531.3,305.8 L535.4,302.0 L539.4,298.6 L543.5,295.4 L547.5,291.9 L551.6,289.0 L555.7,286.4 L559.7,284.7 L563.8,282.3 L567.8,280.3 L571.9,278.6 L575.9,276.6 L580.0,274.7 L584.0,271.8 L588.1,267.9 L592.1,264.3 L596.2,260.7 L600.2,258.7 L604.3,259.2 L608.3,258.3 L612.4,257.4 L616.4,255.6 L620.5,253.3 L624.6,250.3 L628.6,247.3 L632.7,244.1 L636.7,238.7 L640.8,232.3 L644.8,225.5 L648.9,218.1 L652.9,209.9 L657.0,202.2 L661.0,193.8 L665.1,185.2 L669.1,177.2 L673.2,168.6 L677.2,159.7 L681.3,149.2 L685.3,138.6 L689.4,130.2 L693.5,123.2 L697.5,117.7 L701.6,113.1 L705.6,109.9 L709.7,107.3 L713.7,104.6 L717.8,104.0 L721.8,103.8 L725.9,104.0 L729.9,103.8 L734.0,102.3 L738.0,101.2 L742.1,100.9 L746.1,100.6 L750.2,99.5 L754.2,98.9 L758.3,98.8 L762.4,100.1 L766.4,101.0 L770.5,100.8 L774.5,100.0 L778.6,99.0 L782.6,97.2 L786.7,96.2 L790.7,94.2 L794.8,90.2 L798.8,86.5 L802.9,83.9 L806.9,81.3 L811.0,79.6 L815.0,79.7 L819.1,80.4 L823.1,80.4 L827.2,80.8 L831.3,80.7 L835.3,80.2 L839.4,80.5 L843.4,81.0 L847.5,82.4 L851.5,84.4 L855.6,86.5 L859.6,87.8 L863.7,89.1 L867.7,90.5 L871.8,88.9 L875.8,92.1 L879.9,93.1 L883.9,93.9 L888.0,95.9 L892.1,98.2 L896.1,99.0 L900.2,98.7 L904.2,98.7 L908.3,99.6 L912.3,101.5 L916.4,104.3 L920.4,104.5 L924.5,105.2 L928.5,105.5 L932.6,105.5 L936.6,104.5 L940.7,105.2 L944.7,106.5 L948.8,106.4 L952.8,110.8 L956.9,111.8 L961.0,113.5 L965.0,115.0 L969.1,116.1 L973.1,117.4 L977.2,119.3 L981.2,121.2 L985.3,125.1 L989.3,128.8 L993.4,132.6 L997.4,136.3 L1001.5,141.7 L1005.5,146.7 L1009.6,150.8 L1013.6,155.4 L1017.7,161.7 L1021.7,166.4 L1025.8,169.6 L1029.9,171.0" fill="none" stroke="#e6c84a" stroke-width="1.2" stroke-linejoin="round"/>
<line x1="12.6" x2="1054.6" y1="34" y2="34" stroke="#5aa877" stroke-opacity="0.85" stroke-width="2.08" stroke-dasharray="7.71,3.33"/>
<line x1="12.6" x2="1054.6" y1="404.8" y2="404.8" stroke="#e04a4a" stroke-opacity="0.8" stroke-width="2.08" stroke-dasharray="7.71,3.33"/>
</g>
<rect x="641" y="13.7" width="111.6" height="17" rx="2.2" fill="#000" fill-opacity="0.85" stroke="#2fb562" stroke-width="1.7"/>
<text x="696.8" y="26.6" text-anchor="middle" font-family="Liberation Sans" font-weight="bold" font-size="12.6" fill="#32c46c" textLength="104.5" lengthAdjust="spacingAndGlyphs">$1,132.06 52W</text>
<line x1="755.4" y1="28.8" x2="788" y2="33" stroke="#2fb562" stroke-width="1.6"/>
<path d="M794.3,33.7 L786.2,36.2 L787.3,30.0 Z" fill="#2fb562"/>
<rect x="419.3" y="408.4" width="98.2" height="17.2" rx="2.2" fill="#000" fill-opacity="0.85" stroke="#e04a4a" stroke-width="1.7"/>
<text x="467.6" y="421.2" text-anchor="middle" font-family="Liberation Sans" font-weight="bold" font-size="12.6" fill="#e8504f" textLength="91.3" lengthAdjust="spacingAndGlyphs">$620.46 52W</text>
<line x1="416.3" y1="410.9" x2="383" y2="405.5" stroke="#e04a4a" stroke-width="1.6"/>
<path d="M376.7,404.5 L384.6,402.3 L383.6,408.3 Z" fill="#e04a4a"/>
<rect x="12.6" y="11.4" width="1042.0" height="416.6" fill="none" stroke="#949494" stroke-width="1"/>
<g clip-path="url(#cv)">
<rect x="12.6" y="428.0" width="1042.0" height="166.2" fill="#575757"/>
<rect x="10.30" y="577.9" width="4.5" height="18.3" fill="#ec0c0a"/>
<rect x="14.35" y="579.9" width="4.5" height="16.3" fill="#199619"/>
<rect x="18.41" y="579.9" width="4.5" height="16.3" fill="#ec0c0a"/>
<rect x="22.46" y="564.4" width="4.5" height="31.8" fill="#ec0c0a"/>
<rect x="26.51" y="559.0" width="4.5" height="37.2" fill="#199619"/>
<rect x="30.56" y="571.8" width="4.5" height="24.4" fill="#ec0c0a"/>
<rect x="34.62" y="557.0" width="4.5" height="39.2" fill="#199619"/>
<rect x="38.67" y="570.5" width="4.5" height="25.7" fill="#ec0c0a"/>
<rect x="42.72" y="574.5" width="4.5" height="21.7" fill="#199619"/>
<rect x="46.78" y="575.2" width="4.5" height="21.0" fill="#199619"/>
<rect x="50.83" y="581.3" width="4.5" height="14.9" fill="#199619"/>
<rect x="54.88" y="575.9" width="4.5" height="20.3" fill="#ec0c0a"/>
<rect x="58.94" y="532.0" width="4.5" height="64.2" fill="#ec0c0a"/>
<rect x="62.99" y="575.9" width="4.5" height="20.3" fill="#ec0c0a"/>
<rect x="67.04" y="577.9" width="4.5" height="18.3" fill="#199619"/>
<rect x="71.09" y="579.9" width="4.5" height="16.3" fill="#ec0c0a"/>
<rect x="75.15" y="579.2" width="4.5" height="17.0" fill="#199619"/>
<rect x="79.20" y="575.9" width="4.5" height="20.3" fill="#199619"/>
<rect x="83.25" y="575.9" width="4.5" height="20.3" fill="#199619"/>
<rect x="87.31" y="581.3" width="4.5" height="14.9" fill="#199619"/>
<rect x="91.36" y="569.8" width="4.5" height="26.4" fill="#199619"/>
<rect x="95.41" y="521.9" width="4.5" height="74.3" fill="#ec0c0a"/>
<rect x="99.47" y="559.7" width="4.5" height="36.5" fill="#ec0c0a"/>
<rect x="103.52" y="578.6" width="4.5" height="17.6" fill="#199619"/>
<rect x="107.57" y="560.3" width="4.5" height="35.9" fill="#ec0c0a"/>
<rect x="111.62" y="573.2" width="4.5" height="23.0" fill="#ec0c0a"/>
<rect x="115.68" y="559.7" width="4.5" height="36.5" fill="#ec0c0a"/>
<rect x="119.73" y="571.8" width="4.5" height="24.4" fill="#ec0c0a"/>
<rect x="123.78" y="542.1" width="4.5" height="54.1" fill="#199619"/>
<rect x="127.84" y="569.1" width="4.5" height="27.1" fill="#ec0c0a"/>
<rect x="131.89" y="551.6" width="4.5" height="44.6" fill="#ec0c0a"/>
<rect x="135.94" y="565.1" width="4.5" height="31.1" fill="#199619"/>
<rect x="140.00" y="569.1" width="4.5" height="27.1" fill="#199619"/>
<rect x="144.05" y="571.8" width="4.5" height="24.4" fill="#199619"/>
<rect x="148.10" y="572.5" width="4.5" height="23.7" fill="#ec0c0a"/>
<rect x="152.16" y="571.8" width="4.5" height="24.4" fill="#ec0c0a"/>
<rect x="156.21" y="570.5" width="4.5" height="25.7" fill="#ec0c0a"/>
<rect x="160.26" y="579.9" width="4.5" height="16.3" fill="#199619"/>
<rect x="164.31" y="573.8" width="4.5" height="22.4" fill="#199619"/>
<rect x="168.37" y="577.9" width="4.5" height="18.3" fill="#ec0c0a"/>
<rect x="172.42" y="578.6" width="4.5" height="17.6" fill="#199619"/>
<rect x="176.47" y="559.7" width="4.5" height="36.5" fill="#199619"/>
<rect x="180.53" y="578.6" width="4.5" height="17.6" fill="#199619"/>
<rect x="184.58" y="577.9" width="4.5" height="18.3" fill="#199619"/>
<rect x="188.63" y="577.2" width="4.5" height="19.0" fill="#199619"/>
<rect x="192.69" y="573.8" width="4.5" height="22.4" fill="#ec0c0a"/>
<rect x="196.74" y="584.0" width="4.5" height="12.2" fill="#199619"/>
<rect x="200.79" y="582.6" width="4.5" height="13.6" fill="#199619"/>
<rect x="204.84" y="567.8" width="4.5" height="28.4" fill="#199619"/>
<rect x="208.90" y="576.5" width="4.5" height="19.7" fill="#ec0c0a"/>
<rect x="212.95" y="581.3" width="4.5" height="14.9" fill="#199619"/>
<rect x="217.00" y="579.9" width="4.5" height="16.3" fill="#199619"/>
<rect x="221.06" y="578.6" width="4.5" height="17.6" fill="#ec0c0a"/>
<rect x="225.11" y="578.6" width="4.5" height="17.6" fill="#ec0c0a"/>
<rect x="229.16" y="581.3" width="4.5" height="14.9" fill="#ec0c0a"/>
<rect x="233.22" y="558.3" width="4.5" height="37.9" fill="#ec0c0a"/>
<rect x="237.27" y="572.5" width="4.5" height="23.7" fill="#199619"/>
<rect x="241.32" y="578.6" width="4.5" height="17.6" fill="#199619"/>
<rect x="245.37" y="577.9" width="4.5" height="18.3" fill="#199619"/>
<rect x="249.43" y="576.5" width="4.5" height="19.7" fill="#199619"/>
<rect x="253.48" y="571.8" width="4.5" height="24.4" fill="#ec0c0a"/>
<rect x="257.53" y="577.9" width="4.5" height="18.3" fill="#199619"/>
<rect x="261.59" y="579.9" width="4.5" height="16.3" fill="#ec0c0a"/>
<rect x="265.64" y="584.0" width="4.5" height="12.2" fill="#199619"/>
<rect x="269.69" y="586.7" width="4.5" height="9.5" fill="#199619"/>
<rect x="273.75" y="581.3" width="4.5" height="14.9" fill="#ec0c0a"/>
<rect x="277.80" y="575.9" width="4.5" height="20.3" fill="#199619"/>
<rect x="281.85" y="579.9" width="4.5" height="16.3" fill="#199619"/>
<rect x="285.90" y="577.2" width="4.5" height="19.0" fill="#199619"/>
<rect x="289.96" y="579.2" width="4.5" height="17.0" fill="#199619"/>
<rect x="294.01" y="582.0" width="4.5" height="14.2" fill="#199619"/>
<rect x="298.06" y="570.5" width="4.5" height="25.7" fill="#ec0c0a"/>
<rect x="302.12" y="575.9" width="4.5" height="20.3" fill="#199619"/>
<rect x="306.17" y="571.8" width="4.5" height="24.4" fill="#ec0c0a"/>
<rect x="310.22" y="575.9" width="4.5" height="20.3" fill="#199619"/>
<rect x="314.28" y="577.9" width="4.5" height="18.3" fill="#ec0c0a"/>
<rect x="318.33" y="581.3" width="4.5" height="14.9" fill="#199619"/>
<rect x="322.38" y="579.9" width="4.5" height="16.3" fill="#199619"/>
<rect x="326.43" y="579.2" width="4.5" height="17.0" fill="#199619"/>
<rect x="330.49" y="578.6" width="4.5" height="17.6" fill="#199619"/>
<rect x="334.54" y="582.0" width="4.5" height="14.2" fill="#ec0c0a"/>
<rect x="338.59" y="554.3" width="4.5" height="41.9" fill="#ec0c0a"/>
<rect x="342.65" y="570.5" width="4.5" height="25.7" fill="#ec0c0a"/>
<rect x="346.70" y="562.4" width="4.5" height="33.8" fill="#ec0c0a"/>
<rect x="350.75" y="567.1" width="4.5" height="29.1" fill="#199619"/>
<rect x="354.81" y="575.9" width="4.5" height="20.3" fill="#199619"/>
<rect x="358.86" y="575.2" width="4.5" height="21.0" fill="#199619"/>
<rect x="362.91" y="567.8" width="4.5" height="28.4" fill="#ec0c0a"/>
<rect x="366.96" y="442.3" width="4.5" height="153.9" fill="#ec0c0a"/>
<rect x="371.02" y="513.1" width="4.5" height="83.1" fill="#ec0c0a"/>
<rect x="375.07" y="530.0" width="4.5" height="66.2" fill="#199619"/>
<rect x="379.12" y="555.0" width="4.5" height="41.2" fill="#ec0c0a"/>
<rect x="383.18" y="559.0" width="4.5" height="37.2" fill="#199619"/>
<rect x="387.23" y="546.8" width="4.5" height="49.4" fill="#199619"/>
<rect x="391.28" y="548.2" width="4.5" height="48.0" fill="#199619"/>
<rect x="395.33" y="566.4" width="4.5" height="29.8" fill="#199619"/>
<rect x="399.39" y="561.0" width="4.5" height="35.2" fill="#ec0c0a"/>
<rect x="403.44" y="571.8" width="4.5" height="24.4" fill="#199619"/>
<rect x="407.49" y="575.2" width="4.5" height="21.0" fill="#199619"/>
<rect x="411.55" y="576.5" width="4.5" height="19.7" fill="#ec0c0a"/>
<rect x="415.60" y="578.6" width="4.5" height="17.6" fill="#ec0c0a"/>
<rect x="419.65" y="550.9" width="4.5" height="45.3" fill="#199619"/>
<rect x="423.71" y="570.5" width="4.5" height="25.7" fill="#ec0c0a"/>
<rect x="427.76" y="577.9" width="4.5" height="18.3" fill="#ec0c0a"/>
<rect x="431.81" y="581.3" width="4.5" height="14.9" fill="#199619"/>
<rect x="435.87" y="576.5" width="4.5" height="19.7" fill="#199619"/>
<rect x="439.92" y="583.3" width="4.5" height="12.9" fill="#199619"/>
<rect x="443.97" y="582.0" width="4.5" height="14.2" fill="#199619"/>
<rect x="448.02" y="572.5" width="4.5" height="23.7" fill="#ec0c0a"/>
<rect x="452.08" y="569.1" width="4.5" height="27.1" fill="#199619"/>
<rect x="456.13" y="578.6" width="4.5" height="17.6" fill="#199619"/>
<rect x="460.18" y="581.3" width="4.5" height="14.9" fill="#199619"/>
<rect x="464.24" y="582.0" width="4.5" height="14.2" fill="#199619"/>
<rect x="468.29" y="583.3" width="4.5" height="12.9" fill="#ec0c0a"/>
<rect x="472.34" y="578.6" width="4.5" height="17.6" fill="#ec0c0a"/>
<rect x="476.39" y="573.2" width="4.5" height="23.0" fill="#199619"/>
<rect x="480.45" y="574.5" width="4.5" height="21.7" fill="#ec0c0a"/>
<rect x="484.50" y="575.2" width="4.5" height="21.0" fill="#199619"/>
<rect x="488.55" y="552.9" width="4.5" height="43.3" fill="#ec0c0a"/>
<rect x="492.61" y="581.3" width="4.5" height="14.9" fill="#199619"/>
<rect x="496.66" y="578.6" width="4.5" height="17.6" fill="#ec0c0a"/>
<rect x="500.71" y="582.6" width="4.5" height="13.6" fill="#ec0c0a"/>
<rect x="504.77" y="566.4" width="4.5" height="29.8" fill="#ec0c0a"/>
<rect x="508.82" y="575.2" width="4.5" height="21.0" fill="#199619"/>
<rect x="512.87" y="575.9" width="4.5" height="20.3" fill="#199619"/>
<rect x="516.92" y="559.0" width="4.5" height="37.2" fill="#199619"/>
<rect x="520.98" y="536.0" width="4.5" height="60.2" fill="#199619"/>
<rect x="525.03" y="571.1" width="4.5" height="25.1" fill="#199619"/>
<rect x="529.08" y="566.4" width="4.5" height="29.8" fill="#199619"/>
<rect x="533.14" y="573.8" width="4.5" height="22.4" fill="#199619"/>
<rect x="537.19" y="579.9" width="4.5" height="16.3" fill="#ec0c0a"/>
<rect x="541.24" y="583.3" width="4.5" height="12.9" fill="#ec0c0a"/>
<rect x="545.30" y="577.9" width="4.5" height="18.3" fill="#199619"/>
<rect x="549.35" y="575.9" width="4.5" height="20.3" fill="#ec0c0a"/>
<rect x="553.40" y="582.6" width="4.5" height="13.6" fill="#ec0c0a"/>
<rect x="557.45" y="584.0" width="4.5" height="12.2" fill="#ec0c0a"/>
<rect x="561.51" y="582.0" width="4.5" height="14.2" fill="#199619"/>
<rect x="565.56" y="582.0" width="4.5" height="14.2" fill="#ec0c0a"/>
<rect x="569.61" y="571.8" width="4.5" height="24.4" fill="#199619"/>
<rect x="573.67" y="582.0" width="4.5" height="14.2" fill="#199619"/>
<rect x="577.72" y="582.6" width="4.5" height="13.6" fill="#ec0c0a"/>
<rect x="581.77" y="578.6" width="4.5" height="17.6" fill="#199619"/>
<rect x="585.83" y="579.9" width="4.5" height="16.3" fill="#199619"/>
<rect x="589.88" y="582.6" width="4.5" height="13.6" fill="#199619"/>
<rect x="593.93" y="582.6" width="4.5" height="13.6" fill="#199619"/>
<rect x="597.98" y="580.6" width="4.5" height="15.6" fill="#ec0c0a"/>
<rect x="602.04" y="574.5" width="4.5" height="21.7" fill="#ec0c0a"/>
<rect x="606.09" y="559.7" width="4.5" height="36.5" fill="#199619"/>
<rect x="610.14" y="565.7" width="4.5" height="30.5" fill="#199619"/>
<rect x="614.20" y="563.7" width="4.5" height="32.5" fill="#199619"/>
<rect x="618.25" y="561.0" width="4.5" height="35.2" fill="#199619"/>
<rect x="622.30" y="552.2" width="4.5" height="44.0" fill="#199619"/>
<rect x="626.36" y="557.6" width="4.5" height="38.6" fill="#199619"/>
<rect x="630.41" y="569.8" width="4.5" height="26.4" fill="#ec0c0a"/>
<rect x="634.46" y="561.7" width="4.5" height="34.5" fill="#199619"/>
<rect x="638.51" y="570.5" width="4.5" height="25.7" fill="#199619"/>
<rect x="642.57" y="564.4" width="4.5" height="31.8" fill="#199619"/>
<rect x="646.62" y="570.5" width="4.5" height="25.7" fill="#199619"/>
<rect x="650.67" y="571.1" width="4.5" height="25.1" fill="#199619"/>
<rect x="654.73" y="567.8" width="4.5" height="28.4" fill="#199619"/>
<rect x="658.78" y="575.2" width="4.5" height="21.0" fill="#199619"/>
<rect x="662.83" y="575.2" width="4.5" height="21.0" fill="#199619"/>
<rect x="666.89" y="576.5" width="4.5" height="19.7" fill="#ec0c0a"/>
<rect x="670.94" y="571.1" width="4.5" height="25.1" fill="#199619"/>
<rect x="674.99" y="563.7" width="4.5" height="32.5" fill="#199619"/>
<rect x="679.04" y="571.1" width="4.5" height="25.1" fill="#199619"/>
<rect x="683.10" y="577.9" width="4.5" height="18.3" fill="#199619"/>
<rect x="687.15" y="579.9" width="4.5" height="16.3" fill="#ec0c0a"/>
<rect x="691.20" y="577.9" width="4.5" height="18.3" fill="#ec0c0a"/>
<rect x="695.26" y="576.5" width="4.5" height="19.7" fill="#ec0c0a"/>
<rect x="699.31" y="575.9" width="4.5" height="20.3" fill="#ec0c0a"/>
<rect x="703.36" y="572.5" width="4.5" height="23.7" fill="#ec0c0a"/>
<rect x="707.42" y="581.3" width="4.5" height="14.9" fill="#ec0c0a"/>
<rect x="711.47" y="577.9" width="4.5" height="18.3" fill="#ec0c0a"/>
<rect x="715.52" y="581.3" width="4.5" height="14.9" fill="#ec0c0a"/>
<rect x="719.57" y="577.9" width="4.5" height="18.3" fill="#199619"/>
<rect x="723.63" y="568.4" width="4.5" height="27.8" fill="#199619"/>
<rect x="727.68" y="576.5" width="4.5" height="19.7" fill="#199619"/>
<rect x="731.73" y="568.4" width="4.5" height="27.8" fill="#199619"/>
<rect x="735.79" y="571.8" width="4.5" height="24.4" fill="#ec0c0a"/>
<rect x="739.84" y="573.8" width="4.5" height="22.4" fill="#ec0c0a"/>
<rect x="743.89" y="573.8" width="4.5" height="22.4" fill="#199619"/>
<rect x="747.95" y="561.7" width="4.5" height="34.5" fill="#199619"/>
<rect x="752.00" y="579.9" width="4.5" height="16.3" fill="#ec0c0a"/>
<rect x="756.05" y="582.6" width="4.5" height="13.6" fill="#199619"/>
<rect x="760.10" y="589.4" width="4.5" height="6.8" fill="#199619"/>
<rect x="764.16" y="590.0" width="4.5" height="6.2" fill="#199619"/>
<rect x="768.21" y="586.0" width="4.5" height="10.2" fill="#199619"/>
<rect x="772.26" y="588.0" width="4.5" height="8.2" fill="#199619"/>
<rect x="776.32" y="585.3" width="4.5" height="10.9" fill="#ec0c0a"/>
<rect x="780.37" y="580.6" width="4.5" height="15.6" fill="#199619"/>
<rect x="784.42" y="571.8" width="4.5" height="24.4" fill="#ec0c0a"/>
<rect x="788.48" y="579.9" width="4.5" height="16.3" fill="#199619"/>
<rect x="792.53" y="568.4" width="4.5" height="27.8" fill="#199619"/>
<rect x="796.58" y="576.5" width="4.5" height="19.7" fill="#ec0c0a"/>
<rect x="800.63" y="579.9" width="4.5" height="16.3" fill="#ec0c0a"/>
<rect x="804.69" y="582.0" width="4.5" height="14.2" fill="#199619"/>
<rect x="808.74" y="582.6" width="4.5" height="13.6" fill="#ec0c0a"/>
<rect x="812.79" y="584.6" width="4.5" height="11.6" fill="#ec0c0a"/>
<rect x="816.85" y="570.5" width="4.5" height="25.7" fill="#ec0c0a"/>
<rect x="820.90" y="573.2" width="4.5" height="23.0" fill="#199619"/>
<rect x="824.95" y="580.6" width="4.5" height="15.6" fill="#199619"/>
<rect x="829.01" y="573.8" width="4.5" height="22.4" fill="#199619"/>
<rect x="833.06" y="581.3" width="4.5" height="14.9" fill="#199619"/>
<rect x="837.11" y="580.6" width="4.5" height="15.6" fill="#ec0c0a"/>
<rect x="841.16" y="582.6" width="4.5" height="13.6" fill="#199619"/>
<rect x="845.22" y="580.6" width="4.5" height="15.6" fill="#ec0c0a"/>
<rect x="849.27" y="575.9" width="4.5" height="20.3" fill="#ec0c0a"/>
<rect x="853.32" y="582.0" width="4.5" height="14.2" fill="#ec0c0a"/>
<rect x="857.38" y="575.9" width="4.5" height="20.3" fill="#199619"/>
<rect x="861.43" y="579.9" width="4.5" height="16.3" fill="#199619"/>
<rect x="865.48" y="563.7" width="4.5" height="32.5" fill="#ec0c0a"/>
<rect x="869.54" y="554.3" width="4.5" height="41.9" fill="#199619"/>
<rect x="873.59" y="550.2" width="4.5" height="46.0" fill="#ec0c0a"/>
<rect x="877.64" y="567.1" width="4.5" height="29.1" fill="#199619"/>
<rect x="881.69" y="575.9" width="4.5" height="20.3" fill="#ec0c0a"/>
<rect x="885.75" y="574.5" width="4.5" height="21.7" fill="#ec0c0a"/>
<rect x="889.80" y="581.3" width="4.5" height="14.9" fill="#ec0c0a"/>
<rect x="893.85" y="575.2" width="4.5" height="21.0" fill="#199619"/>
<rect x="897.91" y="579.9" width="4.5" height="16.3" fill="#199619"/>
<rect x="901.96" y="577.9" width="4.5" height="18.3" fill="#ec0c0a"/>
<rect x="906.01" y="576.5" width="4.5" height="19.7" fill="#ec0c0a"/>
<rect x="910.07" y="582.6" width="4.5" height="13.6" fill="#199619"/>
<rect x="914.12" y="576.5" width="4.5" height="19.7" fill="#ec0c0a"/>
<rect x="918.17" y="567.8" width="4.5" height="28.4" fill="#199619"/>
<rect x="922.22" y="578.6" width="4.5" height="17.6" fill="#ec0c0a"/>
<rect x="926.28" y="579.9" width="4.5" height="16.3" fill="#ec0c0a"/>
<rect x="930.33" y="579.9" width="4.5" height="16.3" fill="#ec0c0a"/>
<rect x="934.38" y="569.8" width="4.5" height="26.4" fill="#199619"/>
<rect x="938.44" y="577.9" width="4.5" height="18.3" fill="#ec0c0a"/>
<rect x="942.49" y="578.6" width="4.5" height="17.6" fill="#ec0c0a"/>
<rect x="946.54" y="583.3" width="4.5" height="12.9" fill="#ec0c0a"/>
<rect x="950.60" y="573.8" width="4.5" height="22.4" fill="#ec0c0a"/>
<rect x="954.65" y="579.9" width="4.5" height="16.3" fill="#199619"/>
<rect x="958.70" y="579.2" width="4.5" height="17.0" fill="#199619"/>
<rect x="962.75" y="586.0" width="4.5" height="10.2" fill="#ec0c0a"/>
<rect x="966.81" y="586.7" width="4.5" height="9.5" fill="#ec0c0a"/>
<rect x="970.86" y="582.0" width="4.5" height="14.2" fill="#ec0c0a"/>
<rect x="974.91" y="584.0" width="4.5" height="12.2" fill="#199619"/>
<rect x="978.97" y="582.6" width="4.5" height="13.6" fill="#ec0c0a"/>
<rect x="983.02" y="562.4" width="4.5" height="33.8" fill="#ec0c0a"/>
<rect x="987.07" y="575.9" width="4.5" height="20.3" fill="#ec0c0a"/>
<rect x="991.13" y="582.0" width="4.5" height="14.2" fill="#199619"/>
<rect x="995.18" y="567.8" width="4.5" height="28.4" fill="#ec0c0a"/>
<rect x="999.23" y="578.6" width="4.5" height="17.6" fill="#ec0c0a"/>
<rect x="1003.28" y="580.6" width="4.5" height="15.6" fill="#ec0c0a"/>
<rect x="1007.34" y="582.6" width="4.5" height="13.6" fill="#199619"/>
<rect x="1011.39" y="582.6" width="4.5" height="13.6" fill="#ec0c0a"/>
<rect x="1015.44" y="579.9" width="4.5" height="16.3" fill="#ec0c0a"/>
<rect x="1019.50" y="577.9" width="4.5" height="18.3" fill="#ec0c0a"/>
<rect x="1023.55" y="574.5" width="4.5" height="21.7" fill="#199619"/>
<rect x="1027.60" y="579.9" width="4.5" height="16.3" fill="#199619"/>
<line x1="12.6" x2="1054.6" y1="479.5" y2="479.5" stroke="#808080" stroke-opacity="0.3" stroke-width="1"/>
<line x1="12.6" x2="1054.6" y1="537.5" y2="537.5" stroke="#808080" stroke-opacity="0.3" stroke-width="1"/>
<line x1="12.5" x2="12.5" y1="428.0" y2="594.2" stroke="#808080" stroke-opacity="0.3" stroke-width="1"/>
<line x1="97.5" x2="97.5" y1="428.0" y2="594.2" stroke="#808080" stroke-opacity="0.3" stroke-width="1"/>
<line x1="182.5" x2="182.5" y1="428.0" y2="594.2" stroke="#808080" stroke-opacity="0.3" stroke-width="1"/>
<line x1="263.5" x2="263.5" y1="428.0" y2="594.2" stroke="#808080" stroke-opacity="0.3" stroke-width="1"/>
<line x1="352.5" x2="352.5" y1="428.0" y2="594.2" stroke="#808080" stroke-opacity="0.3" stroke-width="1"/>
<line x1="438.5" x2="438.5" y1="428.0" y2="594.2" stroke="#808080" stroke-opacity="0.3" stroke-width="1"/>
<line x1="523.5" x2="523.5" y1="428.0" y2="594.2" stroke="#808080" stroke-opacity="0.3" stroke-width="1"/>
<line x1="616.5" x2="616.5" y1="428.0" y2="594.2" stroke="#808080" stroke-opacity="0.3" stroke-width="1"/>
<line x1="693.5" x2="693.5" y1="428.0" y2="594.2" stroke="#808080" stroke-opacity="0.3" stroke-width="1"/>
<line x1="782.5" x2="782.5" y1="428.0" y2="594.2" stroke="#808080" stroke-opacity="0.3" stroke-width="1"/>
<line x1="863.5" x2="863.5" y1="428.0" y2="594.2" stroke="#808080" stroke-opacity="0.3" stroke-width="1"/>
<line x1="940.5" x2="940.5" y1="428.0" y2="594.2" stroke="#808080" stroke-opacity="0.3" stroke-width="1"/>
<line x1="1029.5" x2="1029.5" y1="428.0" y2="594.2" stroke="#808080" stroke-opacity="0.3" stroke-width="1"/>
<g fill="#000" fill-opacity="0.055" font-family="Liberation Sans" font-weight="bold" font-size="61.0"><text x="433.3" y="478.1" textLength="36.6" lengthAdjust="spacingAndGlyphs">L</text><text x="469.9" y="478.1" textLength="36.6" lengthAdjust="spacingAndGlyphs">L</text><text x="506.6" y="478.1" textLength="41.6" lengthAdjust="spacingAndGlyphs">Y</text></g>
<rect x="914.8" y="434.2" width="10.3" height="9.9" fill="#ffd700"/>
<text x="930.3" y="441.8" font-family="Liberation Sans" font-weight="bold" font-size="11.8" fill="#ffd700" textLength="52.2" lengthAdjust="spacingAndGlyphs">SMA 20</text>
<rect x="914.8" y="451.1" width="10.3" height="9.9" fill="#ff6b6b"/>
<text x="930.3" y="458.7" font-family="Liberation Sans" font-weight="bold" font-size="11.8" fill="#ff6b6b" textLength="52.2" lengthAdjust="spacingAndGlyphs">SMA 50</text>
<rect x="914.8" y="468.0" width="10.3" height="9.9" fill="#4ecdc4"/>
<text x="930.3" y="475.6" font-family="Liberation Sans" font-weight="bold" font-size="11.8" fill="#4ecdc4" textLength="61.2" lengthAdjust="spacingAndGlyphs">SMA 200</text>
</g>
<rect x="12.6" y="428.0" width="1042.0" height="166.2" fill="none" stroke="#949494" stroke-width="1"/>
<line x1="12.6" x2="1054.6" y1="428.1" y2="428.1" stroke="#8e8e8e" stroke-width="1.8"/>
<line x1="1054.6" x2="1059.5" y1="420.5" y2="420.5" stroke="#fff" stroke-width="1"/>
<text x="1063.2" y="425.3" font-family="Liberation Sans" font-size="13.4" fill="#e6e6e6" textLength="25.2" lengthAdjust="spacingAndGlyphs">600</text>
<line x1="1054.6" x2="1059.5" y1="347.5" y2="347.5" stroke="#fff" stroke-width="1"/>
<text x="1063.2" y="352.3" font-family="Liberation Sans" font-size="13.4" fill="#e6e6e6" textLength="25.2" lengthAdjust="spacingAndGlyphs">700</text>
<line x1="1054.6" x2="1059.5" y1="275.5" y2="275.5" stroke="#fff" stroke-width="1"/>
<text x="1063.2" y="280.3" font-family="Liberation Sans" font-size="13.4" fill="#e6e6e6" textLength="25.2" lengthAdjust="spacingAndGlyphs">800</text>
<line x1="1054.6" x2="1059.5" y1="202.5" y2="202.5" stroke="#fff" stroke-width="1"/>
<text x="1063.2" y="207.3" font-family="Liberation Sans" font-size="13.4" fill="#e6e6e6" textLength="25.2" lengthAdjust="spacingAndGlyphs">900</text>
<line x1="1054.6" x2="1059.5" y1="130.5" y2="130.5" stroke="#fff" stroke-width="1"/>
<text x="1063.2" y="135.3" font-family="Liberation Sans" font-size="13.4" fill="#e6e6e6" textLength="37.8" lengthAdjust="spacingAndGlyphs">1.000</text>
<line x1="1054.6" x2="1059.5" y1="57.5" y2="57.5" stroke="#fff" stroke-width="1"/>
<text x="1063.2" y="62.3" font-family="Liberation Sans" font-size="13.4" fill="#e6e6e6" textLength="37.8" lengthAdjust="spacingAndGlyphs">1.100</text>
<line x1="1054.6" x2="1059.5" y1="479.5" y2="479.5" stroke="#fff" stroke-width="1"/>
<text x="1063.2" y="484.3" font-family="Liberation Sans" font-size="13.4" fill="#e6e6e6" textLength="16.8" lengthAdjust="spacingAndGlyphs">20</text>
<line x1="1054.6" x2="1059.5" y1="537.5" y2="537.5" stroke="#fff" stroke-width="1"/>
<text x="1063.2" y="542.3" font-family="Liberation Sans" font-size="13.4" fill="#e6e6e6" textLength="16.8" lengthAdjust="spacingAndGlyphs">10</text>
<line x1="12.6" x2="12.6" y1="594.2" y2="599.1" stroke="#fff" stroke-width="1"/>
<line x1="97.3" x2="97.3" y1="594.2" y2="599.1" stroke="#fff" stroke-width="1"/>
<line x1="182.5" x2="182.5" y1="594.2" y2="599.1" stroke="#fff" stroke-width="1"/>
<line x1="263.5" x2="263.5" y1="594.2" y2="599.1" stroke="#fff" stroke-width="1"/>
<line x1="352.3" x2="352.3" y1="594.2" y2="599.1" stroke="#fff" stroke-width="1"/>
<line x1="438.3" x2="438.3" y1="594.2" y2="599.1" stroke="#fff" stroke-width="1"/>
<line x1="523.4" x2="523.4" y1="594.2" y2="599.1" stroke="#fff" stroke-width="1"/>
<line x1="616.3" x2="616.3" y1="594.2" y2="599.1" stroke="#fff" stroke-width="1"/>
<line x1="693.3" x2="693.3" y1="594.2" y2="599.1" stroke="#fff" stroke-width="1"/>
<line x1="782.5" x2="782.5" y1="594.2" y2="599.1" stroke="#fff" stroke-width="1"/>
<line x1="863.5" x2="863.5" y1="594.2" y2="599.1" stroke="#fff" stroke-width="1"/>
<line x1="940.5" x2="940.5" y1="594.2" y2="599.1" stroke="#fff" stroke-width="1"/>
<line x1="1029.4" x2="1029.4" y1="594.2" y2="599.1" stroke="#fff" stroke-width="1"/>
<text transform="translate(95.3,632.8) rotate(-45)" text-anchor="middle" dominant-baseline="central" font-family="Liberation Sans" font-size="13.4" fill="#e6e6e6" textLength="65.0" lengthAdjust="spacingAndGlyphs">May 2025</text>
<text transform="translate(261.5,632.8) rotate(-45)" text-anchor="middle" dominant-baseline="central" font-family="Liberation Sans" font-size="13.4" fill="#e6e6e6" textLength="53.7" lengthAdjust="spacingAndGlyphs">Jul 2025</text>
<text transform="translate(436.3,632.8) rotate(-45)" text-anchor="middle" dominant-baseline="central" font-family="Liberation Sans" font-size="13.4" fill="#e6e6e6" textLength="62.7" lengthAdjust="spacingAndGlyphs">Sep 2025</text>
<text transform="translate(614.3,632.8) rotate(-45)" text-anchor="middle" dominant-baseline="central" font-family="Liberation Sans" font-size="13.4" fill="#e6e6e6" textLength="63.5" lengthAdjust="spacingAndGlyphs">Nov 2025</text>
<text transform="translate(780.5,632.8) rotate(-45)" text-anchor="middle" dominant-baseline="central" font-family="Liberation Sans" font-size="13.4" fill="#e6e6e6" textLength="58.1" lengthAdjust="spacingAndGlyphs">Jan 2026</text>
<text transform="translate(938.5,632.8) rotate(-45)" text-anchor="middle" dominant-baseline="central" font-family="Liberation Sans" font-size="13.4" fill="#e6e6e6" textLength="62.7" lengthAdjust="spacingAndGlyphs">Mar 2026</text>
<text transform="translate(1119.3,222.8) rotate(-90)" text-anchor="middle" font-family="Liberation Sans" font-size="13.4" fill="#e6e6e6" textLength="32" lengthAdjust="spacingAndGlyphs">Preis</text>
<text transform="translate(1097.2,513.5) rotate(-90)" text-anchor="middle" font-family="Liberation Sans" font-size="13.4" fill="#e6e6e6" textLength="58.5" lengthAdjust="spacingAndGlyphs">Volumen</text>
<text transform="translate(1116.3,507.6) rotate(-90)" text-anchor="middle" font-family="Liberation Sans" font-size="13.4" fill="#e6e6e6">10<tspan font-size="10.6" dy="-5.2">6</tspan></text>
</svg>
</body></html>
